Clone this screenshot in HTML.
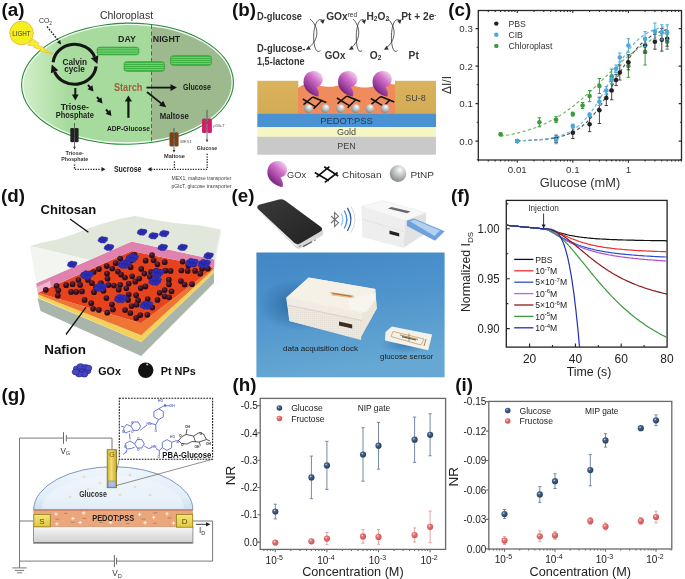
<!DOCTYPE html>
<html><head><meta charset="utf-8"><title>Figure</title>
<style>html,body{margin:0;padding:0;background:#fff;width:685px;height:579px;overflow:hidden}svg{display:block}</style>
</head><body>
<svg width="685" height="579" viewBox="0 0 685 579" font-family="Liberation Sans, Arial, sans-serif"><rect width="685" height="579" fill="#fff"/><rect x="478.3" y="10.5" width="203.2" height="149.5" fill="none" stroke="#2a2a2a" stroke-width="1.3"/>
<path d="M517.3,160.0v2.8M517.3,10.5v2.5M572.8,160.0v2.8M572.8,10.5v2.5M628.4,160.0v2.8M628.4,10.5v2.5M478.5,160.0v1.6M478.5,10.5v1.5M488.3,160.0v1.6M488.3,10.5v1.5M495.2,160.0v1.6M495.2,10.5v1.5M500.6,160.0v1.6M500.6,10.5v1.5M505.0,160.0v1.6M505.0,10.5v1.5M508.7,160.0v1.6M508.7,10.5v1.5M511.9,160.0v1.6M511.9,10.5v1.5M514.8,160.0v1.6M514.8,10.5v1.5M534.0,160.0v1.6M534.0,10.5v1.5M543.8,160.0v1.6M543.8,10.5v1.5M550.7,160.0v1.6M550.7,10.5v1.5M556.1,160.0v1.6M556.1,10.5v1.5M560.5,160.0v1.6M560.5,10.5v1.5M564.2,160.0v1.6M564.2,10.5v1.5M567.5,160.0v1.6M567.5,10.5v1.5M570.3,160.0v1.6M570.3,10.5v1.5M589.6,160.0v1.6M589.6,10.5v1.5M599.4,160.0v1.6M599.4,10.5v1.5M606.3,160.0v1.6M606.3,10.5v1.5M611.7,160.0v1.6M611.7,10.5v1.5M616.1,160.0v1.6M616.1,10.5v1.5M619.8,160.0v1.6M619.8,10.5v1.5M623.0,160.0v1.6M623.0,10.5v1.5M625.9,160.0v1.6M625.9,10.5v1.5M645.1,160.0v1.6M645.1,10.5v1.5M654.9,160.0v1.6M654.9,10.5v1.5M661.8,160.0v1.6M661.8,10.5v1.5M667.2,160.0v1.6M667.2,10.5v1.5M671.6,160.0v1.6M671.6,10.5v1.5M675.3,160.0v1.6M675.3,10.5v1.5M678.6,160.0v1.6M678.6,10.5v1.5M681.4,160.0v1.6M681.4,10.5v1.5M478.3,159.8h-1.6M681.5,159.8h-1.6M478.3,141.1h-2.8M681.5,141.1h-2.8M478.3,122.3h-1.6M681.5,122.3h-1.6M478.3,103.6h-2.8M681.5,103.6h-2.8M478.3,84.8h-1.6M681.5,84.8h-1.6M478.3,66.1h-2.8M681.5,66.1h-2.8M478.3,47.3h-1.6M681.5,47.3h-1.6M478.3,28.6h-2.8M681.5,28.6h-2.8" stroke="#2a2a2a" stroke-width="1.1" fill="none"/>
<text x="472.8" y="144.6" font-size="9.7" text-anchor="end" fill="#333" >0.0</text>
<text x="472.8" y="107.1" font-size="9.7" text-anchor="end" fill="#333" >0.1</text>
<text x="472.8" y="69.6" font-size="9.7" text-anchor="end" fill="#333" >0.2</text>
<text x="472.8" y="32.1" font-size="9.7" text-anchor="end" fill="#333" >0.3</text>
<text x="517.3" y="172.9" font-size="9.7" text-anchor="middle" fill="#333" >0.01</text>
<text x="572.8" y="172.9" font-size="9.7" text-anchor="middle" fill="#333" >0.1</text>
<text x="628.4" y="172.9" font-size="9.7" text-anchor="middle" fill="#333" >1</text>
<text x="580.0" y="186.5" font-size="12.8" text-anchor="middle" fill="#333" >Glucose (mM)</text>
<text transform="translate(450.9,85) rotate(-90)" font-size="12" text-anchor="middle" fill="#333">ΔI/I</text>
<polyline points="500.6,136.2 502.4,135.9 504.3,135.6 506.1,135.3 508.0,135.0 509.9,134.6 511.7,134.3 513.6,133.9 515.4,133.5 517.3,133.1 519.1,132.6 521.0,132.1 522.9,131.7 524.7,131.1 526.6,130.6 528.4,130.0 530.3,129.4 532.1,128.8 534.0,128.2 535.9,127.5 537.7,126.8 539.6,126.0 541.4,125.2 543.3,124.4 545.1,123.6 547.0,122.7 548.9,121.8 550.7,120.8 552.6,119.8 554.4,118.8 556.3,117.7 558.1,116.6 560.0,115.4 561.8,114.2 563.7,113.0 565.6,111.7 567.4,110.4 569.3,109.0 571.1,107.6 573.0,106.2 574.8,104.8 576.7,103.3 578.6,101.7 580.4,100.2 582.3,98.6 584.1,96.9 586.0,95.3 587.8,93.6 589.7,91.9 591.6,90.2 593.4,88.4 595.3,86.7 597.1,84.9 599.0,83.2 600.8,81.4 602.7,79.6 604.6,77.8 606.4,76.0 608.3,74.2 610.1,72.5 612.0,70.7 613.8,69.0 615.7,67.2 617.5,65.5 619.4,63.8 621.3,62.2 623.1,60.5 625.0,58.9 626.8,57.4 628.7,55.8 630.5,54.3 632.4,52.8 634.3,51.4 636.1,50.0 638.0,48.6 639.8,47.3 641.7,46.0 643.5,44.7 645.4,43.5 647.3,42.4 649.1,41.2 651.0,40.1 652.8,39.1 654.7,38.1 656.5,37.1 658.4,36.1 660.3,35.2 662.1,34.4 664.0,33.5 665.8,32.8 667.7,32.0" fill="none" stroke="#6cbf5e" stroke-width="1.2" stroke-dasharray="3.2,2.4"/>
<polyline points="517.3,140.8 519.2,140.7 521.0,140.7 522.9,140.6 524.7,140.6 526.6,140.5 528.4,140.4 530.3,140.3 532.2,140.3 534.0,140.2 535.9,140.0 537.7,139.9 539.6,139.8 541.4,139.6 543.3,139.5 545.2,139.3 547.0,139.1 548.9,138.8 550.7,138.6 552.6,138.3 554.4,137.9 556.3,137.6 558.1,137.2 560.0,136.7 561.9,136.2 563.7,135.7 565.6,135.1 567.4,134.4 569.3,133.7 571.1,132.9 573.0,132.0 574.9,131.0 576.7,129.9 578.6,128.7 580.4,127.4 582.3,126.0 584.1,124.5 586.0,122.9 587.9,121.1 589.7,119.2 591.6,117.1 593.4,114.9 595.3,112.6 597.1,110.1 599.0,107.5 600.9,104.8 602.7,101.9 604.6,99.0 606.4,96.0 608.3,92.8 610.1,89.7 612.0,86.4 613.8,83.2 615.7,80.0 617.6,76.7 619.4,73.6 621.3,70.4 623.1,67.4 625.0,64.4 626.8,61.6 628.7,58.8 630.6,56.2 632.4,53.7 634.3,51.4 636.1,49.1 638.0,47.1 639.8,45.1 641.7,43.3 643.6,41.7 645.4,40.1 647.3,38.7 649.1,37.4 651.0,36.2 652.8,35.1 654.7,34.1 656.6,33.2 658.4,32.4 660.3,31.6 662.1,30.9 664.0,30.3 665.8,29.8 667.7,29.3" fill="none" stroke="#555" stroke-width="1.2" stroke-dasharray="3.2,2.4"/>
<polyline points="517.3,140.7 519.2,140.7 521.0,140.6 522.9,140.5 524.7,140.5 526.6,140.4 528.4,140.3 530.3,140.2 532.2,140.1 534.0,140.0 535.9,139.9 537.7,139.7 539.6,139.6 541.4,139.4 543.3,139.2 545.2,138.9 547.0,138.7 548.9,138.4 550.7,138.1 552.6,137.7 554.4,137.3 556.3,136.8 558.1,136.3 560.0,135.8 561.9,135.2 563.7,134.5 565.6,133.7 567.4,132.9 569.3,132.0 571.1,130.9 573.0,129.8 574.9,128.6 576.7,127.2 578.6,125.7 580.4,124.1 582.3,122.4 584.1,120.5 586.0,118.4 587.9,116.3 589.7,113.9 591.6,111.4 593.4,108.8 595.3,106.0 597.1,103.1 599.0,100.1 600.9,96.9 602.7,93.7 604.6,90.4 606.4,87.0 608.3,83.6 610.1,80.2 612.0,76.8 613.8,73.4 615.7,70.1 617.6,66.9 619.4,63.8 621.3,60.8 623.1,57.8 625.0,55.1 626.8,52.5 628.7,50.0 630.6,47.6 632.4,45.5 634.3,43.4 636.1,41.6 638.0,39.8 639.8,38.2 641.7,36.8 643.6,35.4 645.4,34.2 647.3,33.1 649.1,32.0 651.0,31.1 652.8,30.3 654.7,29.5 656.6,28.9 658.4,28.2 660.3,27.7 662.1,27.2 664.0,26.8 665.8,26.4 667.7,26.0" fill="none" stroke="#5fb6e2" stroke-width="1.2" stroke-dasharray="3.2,2.4"/>
<path d="M500.6,132.8V135.8M498.9,132.8h3.4M498.9,135.8h3.4" stroke="#3c9a3c" stroke-width="1"/>
<circle cx="500.6" cy="134.3" r="2.3" fill="#3c9a3c"/>
<path d="M539.4,117.8V126.8M537.7,117.8h3.4M537.7,126.8h3.4" stroke="#3c9a3c" stroke-width="1"/>
<circle cx="539.4" cy="122.3" r="2.3" fill="#3c9a3c"/>
<path d="M556.1,116.7V122.7M554.4,116.7h3.4M554.4,122.7h3.4" stroke="#3c9a3c" stroke-width="1"/>
<circle cx="556.1" cy="119.7" r="2.3" fill="#3c9a3c"/>
<path d="M572.8,112.2V116.0M571.1,112.2h3.4M571.1,116.0h3.4" stroke="#3c9a3c" stroke-width="1"/>
<circle cx="572.8" cy="114.1" r="2.3" fill="#3c9a3c"/>
<path d="M582.6,102.5V108.5M580.9,102.5h3.4M580.9,108.5h3.4" stroke="#3c9a3c" stroke-width="1"/>
<circle cx="582.6" cy="105.5" r="2.3" fill="#3c9a3c"/>
<path d="M589.6,90.5V101.7M587.9,90.5h3.4M587.9,101.7h3.4" stroke="#3c9a3c" stroke-width="1"/>
<circle cx="589.6" cy="96.1" r="2.3" fill="#3c9a3c"/>
<path d="M599.4,78.5V93.5M597.7,78.5h3.4M597.7,93.5h3.4" stroke="#3c9a3c" stroke-width="1"/>
<circle cx="599.4" cy="86.0" r="2.3" fill="#3c9a3c"/>
<path d="M611.7,69.1V84.1M610.0,69.1h3.4M610.0,84.1h3.4" stroke="#3c9a3c" stroke-width="1"/>
<circle cx="611.7" cy="76.6" r="2.3" fill="#3c9a3c"/>
<path d="M628.4,54.8V77.3M626.7,54.8h3.4M626.7,77.3h3.4" stroke="#3c9a3c" stroke-width="1"/>
<circle cx="628.4" cy="66.1" r="2.3" fill="#3c9a3c"/>
<path d="M645.1,38.7V65.0M643.4,38.7h3.4M643.4,65.0h3.4" stroke="#3c9a3c" stroke-width="1"/>
<circle cx="645.1" cy="51.8" r="2.3" fill="#3c9a3c"/>
<path d="M667.2,34.2V49.2M665.5,34.2h3.4M665.5,49.2h3.4" stroke="#3c9a3c" stroke-width="1"/>
<circle cx="667.2" cy="41.7" r="2.3" fill="#3c9a3c"/>
<path d="M517.3,140.3V141.8M515.6,140.3h3.4M515.6,141.8h3.4" stroke="#444" stroke-width="1"/>
<circle cx="517.3" cy="141.1" r="2.3" fill="#222"/>
<path d="M556.1,135.1V142.6M554.4,135.1h3.4M554.4,142.6h3.4" stroke="#444" stroke-width="1"/>
<circle cx="556.1" cy="138.8" r="2.3" fill="#222"/>
<path d="M572.8,127.2V138.5M571.1,127.2h3.4M571.1,138.5h3.4" stroke="#444" stroke-width="1"/>
<circle cx="572.8" cy="132.8" r="2.3" fill="#222"/>
<path d="M589.6,116.7V131.7M587.9,116.7h3.4M587.9,131.7h3.4" stroke="#444" stroke-width="1"/>
<circle cx="589.6" cy="124.2" r="2.3" fill="#222"/>
<path d="M599.4,97.2V123.5M597.7,97.2h3.4M597.7,123.5h3.4" stroke="#444" stroke-width="1"/>
<circle cx="599.4" cy="110.3" r="2.3" fill="#222"/>
<path d="M606.3,90.5V105.5M604.6,90.5h3.4M604.6,105.5h3.4" stroke="#444" stroke-width="1"/>
<circle cx="606.3" cy="98.0" r="2.3" fill="#222"/>
<path d="M611.7,81.1V99.8M610.0,81.1h3.4M610.0,99.8h3.4" stroke="#444" stroke-width="1"/>
<circle cx="611.7" cy="90.5" r="2.3" fill="#222"/>
<path d="M616.1,74.3V85.6M614.4,74.3h3.4M614.4,85.6h3.4" stroke="#444" stroke-width="1"/>
<circle cx="616.1" cy="80.0" r="2.3" fill="#222"/>
<path d="M619.8,65.0V80.0M618.1,65.0h3.4M618.1,80.0h3.4" stroke="#444" stroke-width="1"/>
<circle cx="619.8" cy="72.5" r="2.3" fill="#222"/>
<path d="M628.4,54.8V69.8M626.7,54.8h3.4M626.7,69.8h3.4" stroke="#444" stroke-width="1"/>
<circle cx="628.4" cy="62.3" r="2.3" fill="#222"/>
<path d="M645.1,38.0V53.0M643.4,38.0h3.4M643.4,53.0h3.4" stroke="#444" stroke-width="1"/>
<circle cx="645.1" cy="45.5" r="2.3" fill="#222"/>
<path d="M654.9,34.2V49.2M653.2,34.2h3.4M653.2,49.2h3.4" stroke="#444" stroke-width="1"/>
<circle cx="654.9" cy="41.7" r="2.3" fill="#222"/>
<path d="M661.8,28.6V51.1M660.1,28.6h3.4M660.1,51.1h3.4" stroke="#444" stroke-width="1"/>
<circle cx="661.8" cy="39.8" r="2.3" fill="#222"/>
<path d="M667.2,31.2V46.2M665.5,31.2h3.4M665.5,46.2h3.4" stroke="#444" stroke-width="1"/>
<circle cx="667.2" cy="38.7" r="2.3" fill="#222"/>
<path d="M517.3,140.3V141.8M515.6,140.3h3.4M515.6,141.8h3.4" stroke="#4aa8dc" stroke-width="1"/>
<circle cx="517.3" cy="141.1" r="2.3" fill="#4aa8dc"/>
<path d="M556.1,136.2V143.7M554.4,136.2h3.4M554.4,143.7h3.4" stroke="#4aa8dc" stroke-width="1"/>
<circle cx="556.1" cy="140.0" r="2.3" fill="#4aa8dc"/>
<path d="M572.8,124.2V128.0M571.1,124.2h3.4M571.1,128.0h3.4" stroke="#4aa8dc" stroke-width="1"/>
<circle cx="572.8" cy="126.1" r="2.3" fill="#4aa8dc"/>
<path d="M589.6,113.0V116.7M587.9,113.0h3.4M587.9,116.7h3.4" stroke="#4aa8dc" stroke-width="1"/>
<circle cx="589.6" cy="114.8" r="2.3" fill="#4aa8dc"/>
<path d="M599.4,98.0V105.5M597.7,98.0h3.4M597.7,105.5h3.4" stroke="#4aa8dc" stroke-width="1"/>
<circle cx="599.4" cy="101.7" r="2.3" fill="#4aa8dc"/>
<path d="M606.3,86.7V94.2M604.6,86.7h3.4M604.6,94.2h3.4" stroke="#4aa8dc" stroke-width="1"/>
<circle cx="606.3" cy="90.5" r="2.3" fill="#4aa8dc"/>
<path d="M611.7,74.7V83.7M610.0,74.7h3.4M610.0,83.7h3.4" stroke="#4aa8dc" stroke-width="1"/>
<circle cx="611.7" cy="79.2" r="2.3" fill="#4aa8dc"/>
<path d="M616.1,65.0V72.5M614.4,65.0h3.4M614.4,72.5h3.4" stroke="#4aa8dc" stroke-width="1"/>
<circle cx="616.1" cy="68.7" r="2.3" fill="#4aa8dc"/>
<path d="M619.8,53.0V62.0M618.1,53.0h3.4M618.1,62.0h3.4" stroke="#4aa8dc" stroke-width="1"/>
<circle cx="619.8" cy="57.5" r="2.3" fill="#4aa8dc"/>
<path d="M628.4,38.7V52.2M626.7,38.7h3.4M626.7,52.2h3.4" stroke="#4aa8dc" stroke-width="1"/>
<circle cx="628.4" cy="45.5" r="2.3" fill="#4aa8dc"/>
<path d="M645.1,31.6V46.6M643.4,31.6h3.4M643.4,46.6h3.4" stroke="#4aa8dc" stroke-width="1"/>
<circle cx="645.1" cy="39.1" r="2.3" fill="#4aa8dc"/>
<path d="M654.9,23.0V39.5M653.2,23.0h3.4M653.2,39.5h3.4" stroke="#4aa8dc" stroke-width="1"/>
<circle cx="654.9" cy="31.2" r="2.3" fill="#4aa8dc"/>
<path d="M661.8,24.8V39.9M660.1,24.8h3.4M660.1,39.9h3.4" stroke="#4aa8dc" stroke-width="1"/>
<circle cx="661.8" cy="32.4" r="2.3" fill="#4aa8dc"/>
<path d="M667.2,24.8V39.9M665.5,24.8h3.4M665.5,39.9h3.4" stroke="#4aa8dc" stroke-width="1"/>
<circle cx="667.2" cy="32.4" r="2.3" fill="#4aa8dc"/>
<circle cx="496.3" cy="23.6" r="2.2" fill="#222"/>
<text x="508.4" y="26.7" font-size="8.7" text-anchor="start" fill="#333" >PBS</text>
<circle cx="496.3" cy="34.8" r="2.2" fill="#4aa8dc"/>
<text x="508.4" y="37.9" font-size="8.7" text-anchor="start" fill="#333" >CIB</text>
<circle cx="496.3" cy="45.9" r="2.2" fill="#3c9a3c"/>
<text x="508.4" y="49.0" font-size="8.7" text-anchor="start" fill="#333" >Chloroplast</text>
<rect x="506.3" y="200.4" width="160.8" height="146.7" fill="none" stroke="#222" stroke-width="1.3"/>
<path d="M529.6,347.1v-3.5M552.5,347.1v-2M575.4,347.1v-3.5M598.3,347.1v-2M621.2,347.1v-3.5M644.1,347.1v-2M506.3,328.6h3.5M506.3,303.6h2M506.3,278.7h3.5M506.3,253.8h2M506.3,228.8h3.5M506.3,203.9h2" stroke="#222" stroke-width="1.1" fill="none"/>
<text x="499.5" y="332.9" font-size="12" text-anchor="end" fill="#222" textLength="22" lengthAdjust="spacingAndGlyphs" >0.90</text>
<text x="499.5" y="283.0" font-size="12" text-anchor="end" fill="#222" textLength="22" lengthAdjust="spacingAndGlyphs" >0.95</text>
<text x="499.5" y="233.1" font-size="12" text-anchor="end" fill="#222" textLength="22" lengthAdjust="spacingAndGlyphs" >1.00</text>
<text x="529.6" y="363.2" font-size="12" text-anchor="middle" fill="#222" >20</text>
<text x="575.4" y="363.2" font-size="12" text-anchor="middle" fill="#222" >40</text>
<text x="621.2" y="363.2" font-size="12" text-anchor="middle" fill="#222" >60</text>
<text x="667.0" y="363.2" font-size="12" text-anchor="middle" fill="#222" >80</text>
<text x="589.0" y="376.0" font-size="12.3" text-anchor="middle" fill="#222" >Time (s)</text>
<text transform="translate(470.2,272) rotate(-90)" font-size="12.3" text-anchor="middle" fill="#222">Normalized I<tspan font-size="8" dy="3">DS</tspan></text>
<text x="543.5" y="211.2" font-size="8.2" text-anchor="middle" fill="#333" >Injection</text>
<path d="M543.6,213.5V228" stroke="#222" stroke-width="0.9"/><path d="M541.6,224.5L543.6,228.5L545.6,224.5Z" fill="#222"/>
<polyline points="506.7,225.3 507.8,225.4 509.0,225.5 510.1,225.6 511.3,225.7 512.4,225.9 513.6,226.0 514.7,226.1 515.9,226.2 517.0,226.3 518.1,226.4 519.3,226.5 520.4,226.6 521.6,226.7 522.7,226.8 523.9,226.9 525.0,227.1 526.2,227.2 527.3,227.3 528.5,227.4 529.6,227.5 530.7,227.6 531.9,227.7 533.0,227.8 534.2,227.9 535.3,228.0 536.5,228.1 537.6,228.3 538.8,228.4 539.9,228.5 541.1,228.6 542.2,228.7 543.3,228.8 544.5,228.9 545.6,229.0 546.8,229.2 547.9,229.4 549.1,229.7 550.2,230.0 551.4,230.3 552.5,230.6 553.6,231.0 554.8,231.3 555.9,231.7 557.1,232.0 558.2,232.4 559.4,232.7 560.5,233.0 561.7,233.3 562.8,233.7 564.0,234.0 565.1,234.2 566.2,234.5 567.4,234.8 568.5,235.0 569.7,235.3 570.8,235.5 572.0,235.7 573.1,236.0 574.3,236.2 575.4,236.4 576.5,236.5 577.7,236.7 578.8,236.9 580.0,237.0 581.1,237.2 582.3,237.3 583.4,237.5 584.6,237.6 585.7,237.7 586.9,237.9 588.0,238.0 589.1,238.1 590.3,238.2 591.4,238.3 592.6,238.4 593.7,238.5 594.9,238.6 596.0,238.7 597.2,238.8 598.3,238.8 599.4,238.9 600.6,239.0 601.7,239.0 602.9,239.1 604.0,239.2 605.2,239.2 606.3,239.3 607.5,239.4 608.6,239.4 609.8,239.5 610.9,239.5 612.0,239.6 613.2,239.6 614.3,239.7 615.5,239.7 616.6,239.7 617.8,239.8 618.9,239.8 620.1,239.9 621.2,239.9 622.3,239.9 623.5,240.0 624.6,240.0 625.8,240.0 626.9,240.1 628.1,240.1 629.2,240.1 630.4,240.2 631.5,240.2 632.6,240.2 633.8,240.2 634.9,240.3 636.1,240.3 637.2,240.3 638.4,240.3 639.5,240.4 640.7,240.4 641.8,240.4 643.0,240.4 644.1,240.5 645.2,240.5 646.4,240.5 647.5,240.5 648.7,240.5 649.8,240.5 651.0,240.6 652.1,240.6 653.3,240.6 654.4,240.6 655.6,240.6 656.7,240.6 657.8,240.7 659.0,240.7 660.1,240.7 661.3,240.7 662.4,240.7 663.6,240.7 664.7,240.7 665.9,240.8 667.0,240.8" fill="none" stroke="#111" stroke-width="1.2"/>
<polyline points="506.7,225.3 507.8,225.4 509.0,225.5 510.1,225.6 511.3,225.7 512.4,225.9 513.6,226.0 514.7,226.1 515.9,226.2 517.0,226.3 518.1,226.4 519.3,226.5 520.4,226.6 521.6,226.7 522.7,226.8 523.9,226.9 525.0,227.1 526.2,227.2 527.3,227.3 528.5,227.4 529.6,227.5 530.7,227.6 531.9,227.7 533.0,227.8 534.2,227.9 535.3,228.0 536.5,228.1 537.6,228.3 538.8,228.4 539.9,228.5 541.1,228.6 542.2,228.7 543.3,228.8 544.5,228.8 545.6,228.9 546.8,229.1 547.9,229.2 549.1,229.5 550.2,229.8 551.4,230.1 552.5,230.4 553.6,230.8 554.8,231.2 555.9,231.7 557.1,232.2 558.2,232.6 559.4,233.1 560.5,233.6 561.7,234.2 562.8,234.7 564.0,235.2 565.1,235.7 566.2,236.2 567.4,236.7 568.5,237.2 569.7,237.7 570.8,238.2 572.0,238.7 573.1,239.1 574.3,239.6 575.4,240.0 576.5,240.5 577.7,240.9 578.8,241.3 580.0,241.7 581.1,242.0 582.3,242.4 583.4,242.8 584.6,243.1 585.7,243.4 586.9,243.7 588.0,244.0 589.1,244.3 590.3,244.6 591.4,244.9 592.6,245.1 593.7,245.4 594.9,245.6 596.0,245.9 597.2,246.1 598.3,246.3 599.4,246.5 600.6,246.7 601.7,246.9 602.9,247.1 604.0,247.3 605.2,247.5 606.3,247.6 607.5,247.8 608.6,247.9 609.8,248.1 610.9,248.2 612.0,248.4 613.2,248.5 614.3,248.6 615.5,248.8 616.6,248.9 617.8,249.0 618.9,249.1 620.1,249.2 621.2,249.3 622.3,249.4 623.5,249.5 624.6,249.6 625.8,249.7 626.9,249.8 628.1,249.9 629.2,250.0 630.4,250.1 631.5,250.2 632.6,250.2 633.8,250.3 634.9,250.4 636.1,250.5 637.2,250.5 638.4,250.6 639.5,250.7 640.7,250.7 641.8,250.8 643.0,250.8 644.1,250.9 645.2,250.9 646.4,251.0 647.5,251.1 648.7,251.1 649.8,251.2 651.0,251.2 652.1,251.2 653.3,251.3 654.4,251.3 655.6,251.4 656.7,251.4 657.8,251.5 659.0,251.5 660.1,251.5 661.3,251.6 662.4,251.6 663.6,251.7 664.7,251.7 665.9,251.7 667.0,251.8" fill="none" stroke="#ee3030" stroke-width="1.2"/>
<polyline points="506.7,225.3 507.8,225.4 509.0,225.5 510.1,225.6 511.3,225.7 512.4,225.9 513.6,226.0 514.7,226.1 515.9,226.2 517.0,226.3 518.1,226.4 519.3,226.5 520.4,226.6 521.6,226.7 522.7,226.8 523.9,226.9 525.0,227.1 526.2,227.2 527.3,227.3 528.5,227.4 529.6,227.5 530.7,227.6 531.9,227.7 533.0,227.8 534.2,227.9 535.3,228.0 536.5,228.1 537.6,228.3 538.8,228.4 539.9,228.5 541.1,228.6 542.2,228.7 543.3,228.8 544.5,228.9 545.6,229.2 546.8,229.6 547.9,230.0 549.1,230.5 550.2,231.1 551.4,231.6 552.5,232.2 553.6,232.9 554.8,233.5 555.9,234.1 557.1,234.8 558.2,235.4 559.4,236.1 560.5,236.7 561.7,237.4 562.8,238.0 564.0,238.6 565.1,239.2 566.2,239.8 567.4,240.3 568.5,240.9 569.7,241.4 570.8,241.9 572.0,242.5 573.1,242.9 574.3,243.4 575.4,243.9 576.5,244.3 577.7,244.8 578.8,245.2 580.0,245.6 581.1,246.0 582.3,246.4 583.4,246.7 584.6,247.1 585.7,247.4 586.9,247.8 588.0,248.1 589.1,248.4 590.3,248.7 591.4,249.0 592.6,249.2 593.7,249.5 594.9,249.8 596.0,250.0 597.2,250.3 598.3,250.5 599.4,250.7 600.6,251.0 601.7,251.2 602.9,251.4 604.0,251.6 605.2,251.8 606.3,252.0 607.5,252.1 608.6,252.3 609.8,252.5 610.9,252.7 612.0,252.8 613.2,253.0 614.3,253.1 615.5,253.3 616.6,253.4 617.8,253.6 618.9,253.7 620.1,253.8 621.2,253.9 622.3,254.1 623.5,254.2 624.6,254.3 625.8,254.4 626.9,254.5 628.1,254.6 629.2,254.7 630.4,254.8 631.5,254.9 632.6,255.0 633.8,255.1 634.9,255.2 636.1,255.3 637.2,255.4 638.4,255.5 639.5,255.6 640.7,255.7 641.8,255.7 643.0,255.8 644.1,255.9 645.2,256.0 646.4,256.0 647.5,256.1 648.7,256.2 649.8,256.2 651.0,256.3 652.1,256.4 653.3,256.4 654.4,256.5 655.6,256.6 656.7,256.6 657.8,256.7 659.0,256.7 660.1,256.8 661.3,256.8 662.4,256.9 663.6,256.9 664.7,257.0 665.9,257.0 667.0,257.1" fill="none" stroke="#3050d0" stroke-width="1.2"/>
<polyline points="506.7,225.3 507.8,225.4 509.0,225.5 510.1,225.6 511.3,225.7 512.4,225.9 513.6,226.0 514.7,226.1 515.9,226.2 517.0,226.3 518.1,226.4 519.3,226.5 520.4,226.6 521.6,226.7 522.7,226.8 523.9,226.9 525.0,227.1 526.2,227.2 527.3,227.3 528.5,227.4 529.6,227.5 530.7,227.6 531.9,227.7 533.0,227.8 534.2,227.9 535.3,228.0 536.5,228.1 537.6,228.3 538.8,228.4 539.9,228.5 541.1,228.6 542.2,228.7 543.3,228.8 544.5,229.0 545.6,229.3 546.8,229.8 547.9,230.3 549.1,230.8 550.2,231.4 551.4,232.0 552.5,232.7 553.6,233.3 554.8,234.0 555.9,234.7 557.1,235.4 558.2,236.1 559.4,236.7 560.5,237.4 561.7,238.1 562.8,238.7 564.0,239.3 565.1,240.0 566.2,240.6 567.4,241.2 568.5,241.8 569.7,242.4 570.8,242.9 572.0,243.5 573.1,244.0 574.3,244.5 575.4,245.0 576.5,245.5 577.7,246.0 578.8,246.5 580.0,246.9 581.1,247.3 582.3,247.8 583.4,248.2 584.6,248.6 585.7,249.0 586.9,249.3 588.0,249.7 589.1,250.1 590.3,250.4 591.4,250.7 592.6,251.1 593.7,251.4 594.9,251.7 596.0,252.0 597.2,252.3 598.3,252.6 599.4,252.8 600.6,253.1 601.7,253.4 602.9,253.6 604.0,253.9 605.2,254.1 606.3,254.3 607.5,254.5 608.6,254.8 609.8,255.0 610.9,255.2 612.0,255.4 613.2,255.6 614.3,255.8 615.5,256.0 616.6,256.1 617.8,256.3 618.9,256.5 620.1,256.7 621.2,256.8 622.3,257.0 623.5,257.1 624.6,257.3 625.8,257.4 626.9,257.6 628.1,257.7 629.2,257.9 630.4,258.0 631.5,258.1 632.6,258.2 633.8,258.4 634.9,258.5 636.1,258.6 637.2,258.7 638.4,258.8 639.5,259.0 640.7,259.1 641.8,259.2 643.0,259.3 644.1,259.4 645.2,259.5 646.4,259.6 647.5,259.7 648.7,259.8 649.8,259.9 651.0,259.9 652.1,260.0 653.3,260.1 654.4,260.2 655.6,260.3 656.7,260.4 657.8,260.4 659.0,260.5 660.1,260.6 661.3,260.7 662.4,260.8 663.6,260.8 664.7,260.9 665.9,261.0 667.0,261.0" fill="none" stroke="#b050d0" stroke-width="1.2"/>
<polyline points="506.7,225.3 507.8,225.4 509.0,225.5 510.1,225.6 511.3,225.7 512.4,225.9 513.6,226.0 514.7,226.1 515.9,226.2 517.0,226.3 518.1,226.4 519.3,226.5 520.4,226.6 521.6,226.7 522.7,226.8 523.9,226.9 525.0,227.1 526.2,227.2 527.3,227.3 528.5,227.4 529.6,227.5 530.7,227.6 531.9,227.7 533.0,227.8 534.2,227.9 535.3,228.0 536.5,228.1 537.6,228.3 538.8,228.4 539.9,228.5 541.1,228.6 542.2,228.7 543.3,228.8 544.5,228.8 545.6,228.9 546.8,229.0 547.9,229.2 549.1,229.5 550.2,229.7 551.4,230.1 552.5,230.4 553.6,230.9 554.8,231.3 555.9,231.9 557.1,232.4 558.2,233.0 559.4,233.6 560.5,234.3 561.7,235.0 562.8,235.8 564.0,236.5 565.1,237.3 566.2,238.1 567.4,239.0 568.5,239.8 569.7,240.7 570.8,241.6 572.0,242.5 573.1,243.4 574.3,244.4 575.4,245.3 576.5,246.2 577.7,247.2 578.8,248.1 580.0,249.1 581.1,250.1 582.3,251.0 583.4,252.0 584.6,252.9 585.7,253.9 586.9,254.8 588.0,255.8 589.1,256.7 590.3,257.6 591.4,258.5 592.6,259.4 593.7,260.3 594.9,261.2 596.0,262.1 597.2,262.9 598.3,263.8 599.4,264.6 600.6,265.4 601.7,266.3 602.9,267.1 604.0,267.8 605.2,268.6 606.3,269.4 607.5,270.1 608.6,270.9 609.8,271.6 610.9,272.3 612.0,273.0 613.2,273.7 614.3,274.3 615.5,275.0 616.6,275.6 617.8,276.3 618.9,276.9 620.1,277.5 621.2,278.1 622.3,278.7 623.5,279.2 624.6,279.8 625.8,280.3 626.9,280.9 628.1,281.4 629.2,281.9 630.4,282.4 631.5,282.9 632.6,283.4 633.8,283.9 634.9,284.3 636.1,284.8 637.2,285.2 638.4,285.7 639.5,286.1 640.7,286.5 641.8,286.9 643.0,287.3 644.1,287.7 645.2,288.1 646.4,288.5 647.5,288.8 648.7,289.2 649.8,289.5 651.0,289.9 652.1,290.2 653.3,290.6 654.4,290.9 655.6,291.2 656.7,291.5 657.8,291.8 659.0,292.1 660.1,292.4 661.3,292.7 662.4,293.0 663.6,293.3 664.7,293.5 665.9,293.8 667.0,294.1" fill="none" stroke="#8b1a1a" stroke-width="1.2"/>
<polyline points="506.7,225.3 507.8,225.4 509.0,225.5 510.1,225.6 511.3,225.7 512.4,225.9 513.6,226.0 514.7,226.1 515.9,226.2 517.0,226.3 518.1,226.4 519.3,226.5 520.4,226.6 521.6,226.7 522.7,226.8 523.9,226.9 525.0,227.1 526.2,227.2 527.3,227.3 528.5,227.4 529.6,227.5 530.7,227.6 531.9,227.7 533.0,227.8 534.2,227.9 535.3,228.0 536.5,228.1 537.6,228.3 538.8,228.4 539.9,228.5 541.1,228.6 542.2,228.7 543.3,228.8 544.5,228.9 545.6,229.0 546.8,229.3 547.9,229.6 549.1,230.0 550.2,230.4 551.4,231.0 552.5,231.6 553.6,232.2 554.8,233.0 555.9,233.7 557.1,234.6 558.2,235.5 559.4,236.4 560.5,237.4 561.7,238.4 562.8,239.5 564.0,240.6 565.1,241.7 566.2,242.9 567.4,244.1 568.5,245.4 569.7,246.6 570.8,247.9 572.0,249.2 573.1,250.6 574.3,251.9 575.4,253.3 576.5,254.7 577.7,256.1 578.8,257.5 580.0,258.9 581.1,260.3 582.3,261.7 583.4,263.1 584.6,264.5 585.7,266.0 586.9,267.4 588.0,268.8 589.1,270.2 590.3,271.6 591.4,273.1 592.6,274.5 593.7,275.9 594.9,277.2 596.0,278.6 597.2,280.0 598.3,281.3 599.4,282.7 600.6,284.0 601.7,285.3 602.9,286.7 604.0,287.9 605.2,289.2 606.3,290.5 607.5,291.8 608.6,293.0 609.8,294.2 610.9,295.4 612.0,296.6 613.2,297.8 614.3,299.0 615.5,300.1 616.6,301.3 617.8,302.4 618.9,303.5 620.1,304.6 621.2,305.7 622.3,306.7 623.5,307.8 624.6,308.8 625.8,309.8 626.9,310.8 628.1,311.8 629.2,312.8 630.4,313.7 631.5,314.7 632.6,315.6 633.8,316.5 634.9,317.4 636.1,318.3 637.2,319.2 638.4,320.0 639.5,320.9 640.7,321.7 641.8,322.5 643.0,323.3 644.1,324.1 645.2,324.9 646.4,325.7 647.5,326.4 648.7,327.2 649.8,327.9 651.0,328.6 652.1,329.3 653.3,330.0 654.4,330.7 655.6,331.4 656.7,332.0 657.8,332.7 659.0,333.3 660.1,334.0 661.3,334.6 662.4,335.2 663.6,335.8 664.7,336.4 665.9,337.0 667.0,337.6" fill="none" stroke="#3a9a3a" stroke-width="1.2"/>
<polyline points="506.7,225.3 507.3,225.4 507.8,225.4 508.4,225.5 509.0,225.5 509.6,225.6 510.1,225.6 510.7,225.7 511.3,225.7 511.9,225.8 512.4,225.9 513.0,225.9 513.6,226.0 514.1,226.0 514.7,226.1 515.3,226.1 515.9,226.2 516.4,226.2 517.0,226.3 517.6,226.3 518.1,226.4 518.7,226.5 519.3,226.5 519.9,226.6 520.4,226.6 521.0,226.7 521.6,226.7 522.2,226.8 522.7,226.8 523.3,226.9 523.9,226.9 524.4,227.0 525.0,227.1 525.6,227.1 526.2,227.2 526.7,227.2 527.3,227.3 527.9,227.3 528.5,227.4 529.0,227.4 529.6,227.5 530.2,227.5 530.7,227.6 531.3,227.7 531.9,227.7 532.5,227.8 533.0,227.8 533.6,227.9 534.2,227.9 534.8,228.0 535.3,228.0 535.9,228.1 536.5,228.1 537.0,228.2 537.6,228.3 538.2,228.3 538.8,228.4 539.3,228.4 539.9,228.5 540.5,228.5 541.1,228.6 541.6,228.6 542.2,228.7 542.8,228.7 543.3,228.8 543.9,228.8 544.5,228.8 545.1,228.8 545.6,228.8 546.2,228.8 546.8,228.8 547.3,228.8 547.9,228.9 548.5,228.9 549.1,229.0 549.6,229.0 550.2,229.1 550.8,229.2 551.4,229.3 551.9,229.5 552.5,229.7 553.1,229.9 553.6,230.1 554.2,230.4 554.8,230.7 555.4,231.1 555.9,231.5 556.5,232.0 557.1,232.5 557.7,233.1 558.2,233.7 558.8,234.4 559.4,235.2 559.9,236.1 560.5,237.0 561.1,238.1 561.7,239.2 562.2,240.4 562.8,241.7 563.4,243.1 564.0,244.7 564.5,246.3 565.1,248.1 565.7,249.9 566.2,252.0 566.8,254.1 567.4,256.4 568.0,258.8 568.5,261.4 569.1,264.1 569.7,267.0 570.2,270.1 570.8,273.3 571.4,276.7 572.0,280.3 572.5,284.1 573.1,288.1 573.7,292.2 574.3,296.6 574.8,301.2 575.4,306.0 576.0,311.0 576.5,316.2 577.1,321.7 577.7,327.3 578.3,333.3 578.8,339.5 579.4,345.9 580.0,347.1" fill="none" stroke="#2030b0" stroke-width="1.2"/>
<path d="M514.2,259.4H533.4" stroke="#111" stroke-width="1.3"/>
<text x="535.2" y="262.6" font-size="8.6" text-anchor="start" fill="#222" >PBS</text>
<path d="M514.2,270.8H533.4" stroke="#ee3030" stroke-width="1.3"/>
<text x="535.2" y="274.0" font-size="8.6" text-anchor="start" fill="#222" >10<tspan font-size="6" dy="-3.5">-7</tspan><tspan dy="3.5">M</tspan></text>
<path d="M514.2,282.2H533.4" stroke="#3050d0" stroke-width="1.3"/>
<text x="535.2" y="285.4" font-size="8.6" text-anchor="start" fill="#222" >5×10<tspan font-size="6" dy="-3.5">-7</tspan><tspan dy="3.5">M</tspan></text>
<path d="M514.2,293.6H533.4" stroke="#c060e0" stroke-width="1.3"/>
<text x="535.2" y="296.8" font-size="8.6" text-anchor="start" fill="#222" >10<tspan font-size="6" dy="-3.5">-6</tspan><tspan dy="3.5">M</tspan></text>
<path d="M514.2,305.0H533.4" stroke="#8b1a1a" stroke-width="1.3"/>
<text x="535.2" y="308.2" font-size="8.6" text-anchor="start" fill="#222" >5×10<tspan font-size="6" dy="-3.5">-6</tspan><tspan dy="3.5">M</tspan></text>
<path d="M514.2,316.4H533.4" stroke="#3a9a3a" stroke-width="1.3"/>
<text x="535.2" y="319.6" font-size="8.6" text-anchor="start" fill="#222" >10<tspan font-size="6" dy="-3.5">-5</tspan><tspan dy="3.5">M</tspan></text>
<path d="M514.2,327.8H533.4" stroke="#2030b0" stroke-width="1.3"/>
<text x="535.2" y="331.0" font-size="8.6" text-anchor="start" fill="#222" >10<tspan font-size="6" dy="-3.5">-4</tspan><tspan dy="3.5">M</tspan></text>
<defs>
<radialGradient id="gB" cx="0.38" cy="0.35" r="0.7"><stop offset="0" stop-color="#dfe6f0"/><stop offset="0.25" stop-color="#4a6890"/><stop offset="1" stop-color="#1e3758"/></radialGradient>
<radialGradient id="gR" cx="0.38" cy="0.35" r="0.7"><stop offset="0" stop-color="#fff2f2"/><stop offset="0.25" stop-color="#e67a7a"/><stop offset="1" stop-color="#c84e50"/></radialGradient>
</defs>
<rect x="260.2" y="398.4" width="185.4" height="151.0" fill="none" stroke="#6a6a6a" stroke-width="1.3"/>
<path d="M275.3,549.4v2.8M326.9,549.4v2.8M378.5,549.4v2.8M430.1,549.4v2.8M263.9,549.4v1.6M267.3,549.4v1.6M270.3,549.4v1.6M272.9,549.4v1.6M290.8,549.4v1.6M299.9,549.4v1.6M306.4,549.4v1.6M311.4,549.4v1.6M315.5,549.4v1.6M318.9,549.4v1.6M321.9,549.4v1.6M324.5,549.4v1.6M342.4,549.4v1.6M351.5,549.4v1.6M358.0,549.4v1.6M363.0,549.4v1.6M367.1,549.4v1.6M370.5,549.4v1.6M373.5,549.4v1.6M376.1,549.4v1.6M394.0,549.4v1.6M403.1,549.4v1.6M409.6,549.4v1.6M414.6,549.4v1.6M418.7,549.4v1.6M422.1,549.4v1.6M425.1,549.4v1.6M427.7,549.4v1.6M260.2,405.6h-2.8M260.2,432.9h-2.8M260.2,460.2h-2.8M260.2,487.5h-2.8M260.2,514.8h-2.8M260.2,542.1h-2.8" stroke="#6a6a6a" stroke-width="1.1" fill="none"/>
<text x="257.9" y="409.2" font-size="10" text-anchor="end" fill="#222" >-0.5</text>
<text x="257.9" y="436.5" font-size="10" text-anchor="end" fill="#222" >-0.4</text>
<text x="257.9" y="463.8" font-size="10" text-anchor="end" fill="#222" >-0.3</text>
<text x="257.9" y="491.1" font-size="10" text-anchor="end" fill="#222" >-0.2</text>
<text x="257.9" y="518.4" font-size="10" text-anchor="end" fill="#222" >-0.1</text>
<text x="257.9" y="545.7" font-size="10" text-anchor="end" fill="#222" >0.0</text>
<text x="274.3" y="563.6" font-size="10" text-anchor="middle" fill="#222">10<tspan font-size="7" dy="-4">-5</tspan></text>
<text x="325.9" y="563.6" font-size="10" text-anchor="middle" fill="#222">10<tspan font-size="7" dy="-4">-4</tspan></text>
<text x="377.5" y="563.6" font-size="10" text-anchor="middle" fill="#222">10<tspan font-size="7" dy="-4">-3</tspan></text>
<text x="429.1" y="563.6" font-size="10" text-anchor="middle" fill="#222">10<tspan font-size="7" dy="-4">-2</tspan></text>
<text x="352.9" y="576.0" font-size="12.7" text-anchor="middle" fill="#222" >Concentration (M)</text>
<text transform="translate(235.3,475.4) rotate(-90)" font-size="13.5" text-anchor="middle" fill="#222">NR</text>
<text x="357.7" y="411.4" font-size="8.4" text-anchor="start" fill="#222" >NIP gate</text>
<circle cx="275.3" cy="542.6" r="3.1" fill="url(#gR)"/>
<circle cx="311.4" cy="541.3" r="3.1" fill="url(#gR)"/>
<path d="M326.9,532.5V544.6M325.3,532.5h3.2M325.3,544.6h3.2" stroke="#e89a9a" stroke-width="0.9"/>
<circle cx="326.9" cy="538.6" r="3.1" fill="url(#gR)"/>
<path d="M363.0,529.5V543.2M361.4,529.5h3.2M361.4,543.2h3.2" stroke="#e89a9a" stroke-width="0.9"/>
<circle cx="363.0" cy="536.4" r="3.1" fill="url(#gR)"/>
<path d="M378.5,529.5V544.3M376.9,529.5h3.2M376.9,544.3h3.2" stroke="#e89a9a" stroke-width="0.9"/>
<circle cx="378.5" cy="536.9" r="3.1" fill="url(#gR)"/>
<path d="M414.6,527.9V542.1M413.0,527.9h3.2M413.0,542.1h3.2" stroke="#e89a9a" stroke-width="0.9"/>
<circle cx="414.6" cy="535.0" r="3.1" fill="url(#gR)"/>
<path d="M430.1,511.0V542.6M428.5,511.0h3.2M428.5,542.6h3.2" stroke="#e89a9a" stroke-width="0.9"/>
<circle cx="430.1" cy="526.8" r="3.1" fill="url(#gR)"/>
<path d="M275.3,504.2V518.9M273.7,504.2h3.2M273.7,518.9h3.2" stroke="#6a7c98" stroke-width="0.9"/>
<circle cx="275.3" cy="511.5" r="3.1" fill="url(#gB)"/>
<path d="M311.4,456.1V498.7M309.8,456.1h3.2M309.8,498.7h3.2" stroke="#6a7c98" stroke-width="0.9"/>
<circle cx="311.4" cy="477.4" r="3.1" fill="url(#gB)"/>
<path d="M326.9,441.4V489.4M325.3,441.4h3.2M325.3,489.4h3.2" stroke="#6a7c98" stroke-width="0.9"/>
<circle cx="326.9" cy="465.4" r="3.1" fill="url(#gB)"/>
<path d="M363.0,427.7V481.2M361.4,427.7h3.2M361.4,481.2h3.2" stroke="#6a7c98" stroke-width="0.9"/>
<circle cx="363.0" cy="454.5" r="3.1" fill="url(#gB)"/>
<path d="M378.5,422.3V469.2M376.9,422.3h3.2M376.9,469.2h3.2" stroke="#6a7c98" stroke-width="0.9"/>
<circle cx="378.5" cy="445.7" r="3.1" fill="url(#gB)"/>
<path d="M414.6,417.1V462.4M413.0,417.1h3.2M413.0,462.4h3.2" stroke="#6a7c98" stroke-width="0.9"/>
<circle cx="414.6" cy="439.7" r="3.1" fill="url(#gB)"/>
<path d="M430.1,413.8V455.8M428.5,413.8h3.2M428.5,455.8h3.2" stroke="#6a7c98" stroke-width="0.9"/>
<circle cx="430.1" cy="434.8" r="3.1" fill="url(#gB)"/>
<circle cx="279.4" cy="408" r="2.8" fill="url(#gB)"/><circle cx="279.4" cy="418.5" r="2.8" fill="url(#gR)"/>
<text x="291.2" y="411.3" font-size="8.6" text-anchor="start" fill="#222" >Glucose</text>
<text x="291.2" y="421.8" font-size="8.6" text-anchor="start" fill="#222" >Fructose</text>
<rect x="488.8" y="401.4" width="183.0" height="147.6" fill="none" stroke="#6a6a6a" stroke-width="1.3"/>
<path d="M504.5,549.0v2.8M555.0,549.0v2.8M605.5,549.0v2.8M656.0,549.0v2.8M489.3,549.0v1.6M493.3,549.0v1.6M496.7,549.0v1.6M499.6,549.0v1.6M502.2,549.0v1.6M519.7,549.0v1.6M528.6,549.0v1.6M534.9,549.0v1.6M539.8,549.0v1.6M543.8,549.0v1.6M547.2,549.0v1.6M550.1,549.0v1.6M552.7,549.0v1.6M570.2,549.0v1.6M579.1,549.0v1.6M585.4,549.0v1.6M590.3,549.0v1.6M594.3,549.0v1.6M597.7,549.0v1.6M600.6,549.0v1.6M603.2,549.0v1.6M620.7,549.0v1.6M629.6,549.0v1.6M635.9,549.0v1.6M640.8,549.0v1.6M644.8,549.0v1.6M648.2,549.0v1.6M651.1,549.0v1.6M653.7,549.0v1.6M671.2,549.0v1.6M488.8,401.6h-2.8M488.8,431.1h-2.8M488.8,460.5h-2.8M488.8,490.0h-2.8M488.8,519.4h-2.8M488.8,548.9h-2.8" stroke="#6a6a6a" stroke-width="1.1" fill="none"/>
<text x="486.3" y="405.2" font-size="10" text-anchor="end" fill="#222" >-0.15</text>
<text x="486.3" y="434.7" font-size="10" text-anchor="end" fill="#222" >-0.12</text>
<text x="486.3" y="464.1" font-size="10" text-anchor="end" fill="#222" >-0.09</text>
<text x="486.3" y="493.6" font-size="10" text-anchor="end" fill="#222" >-0.06</text>
<text x="486.3" y="523.0" font-size="10" text-anchor="end" fill="#222" >-0.03</text>
<text x="486.3" y="552.5" font-size="10" text-anchor="end" fill="#222" >0.00</text>
<text x="503.5" y="563.2" font-size="10" text-anchor="middle" fill="#222">10<tspan font-size="7" dy="-4">-5</tspan></text>
<text x="554.0" y="563.2" font-size="10" text-anchor="middle" fill="#222">10<tspan font-size="7" dy="-4">-4</tspan></text>
<text x="604.5" y="563.2" font-size="10" text-anchor="middle" fill="#222">10<tspan font-size="7" dy="-4">-3</tspan></text>
<text x="655.0" y="563.2" font-size="10" text-anchor="middle" fill="#222">10<tspan font-size="7" dy="-4">-2</tspan></text>
<text x="580.3" y="575.6" font-size="12.7" text-anchor="middle" fill="#222" >Concentration (M)</text>
<text transform="translate(458.2,476.7) rotate(-90)" font-size="13.5" text-anchor="middle" fill="#222">NR</text>
<text x="585.1" y="414.4" font-size="8.4" text-anchor="start" fill="#222" >MIP gate</text>
<path d="M504.5,536.6V544.5M502.9,536.6h3.2M502.9,544.5h3.2" stroke="#e89a9a" stroke-width="0.9"/>
<circle cx="504.5" cy="540.6" r="3.1" fill="url(#gR)"/>
<path d="M539.8,530.9V541.7M538.2,530.9h3.2M538.2,541.7h3.2" stroke="#e89a9a" stroke-width="0.9"/>
<circle cx="539.8" cy="536.3" r="3.1" fill="url(#gR)"/>
<path d="M555.0,531.4V539.3M553.4,531.4h3.2M553.4,539.3h3.2" stroke="#e89a9a" stroke-width="0.9"/>
<circle cx="555.0" cy="535.4" r="3.1" fill="url(#gR)"/>
<path d="M590.3,517.5V524.4M588.7,517.5h3.2M588.7,524.4h3.2" stroke="#e89a9a" stroke-width="0.9"/>
<circle cx="590.3" cy="520.9" r="3.1" fill="url(#gR)"/>
<path d="M605.5,523.1V530.0M603.9,523.1h3.2M603.9,530.0h3.2" stroke="#e89a9a" stroke-width="0.9"/>
<circle cx="605.5" cy="526.5" r="3.1" fill="url(#gR)"/>
<path d="M640.8,517.5V524.4M639.2,517.5h3.2M639.2,524.4h3.2" stroke="#e89a9a" stroke-width="0.9"/>
<circle cx="640.8" cy="520.9" r="3.1" fill="url(#gR)"/>
<path d="M656.0,511.1V522.9M654.4,511.1h3.2M654.4,522.9h3.2" stroke="#e89a9a" stroke-width="0.9"/>
<circle cx="656.0" cy="517.0" r="3.1" fill="url(#gR)"/>
<path d="M504.5,509.5V518.4M502.9,509.5h3.2M502.9,518.4h3.2" stroke="#6a7c98" stroke-width="0.9"/>
<circle cx="504.5" cy="514.0" r="3.1" fill="url(#gB)"/>
<path d="M539.8,486.6V502.3M538.2,486.6h3.2M538.2,502.3h3.2" stroke="#6a7c98" stroke-width="0.9"/>
<circle cx="539.8" cy="494.4" r="3.1" fill="url(#gB)"/>
<path d="M555.0,473.8V488.5M553.4,473.8h3.2M553.4,488.5h3.2" stroke="#6a7c98" stroke-width="0.9"/>
<circle cx="555.0" cy="481.2" r="3.1" fill="url(#gB)"/>
<path d="M590.3,454.4V485.8M588.7,454.4h3.2M588.7,485.8h3.2" stroke="#6a7c98" stroke-width="0.9"/>
<circle cx="590.3" cy="470.1" r="3.1" fill="url(#gB)"/>
<path d="M605.5,433.7V447.1M603.9,433.7h3.2M603.9,447.1h3.2" stroke="#6a7c98" stroke-width="0.9"/>
<circle cx="605.5" cy="440.4" r="3.1" fill="url(#gB)"/>
<circle cx="640.8" cy="428.2" r="3.1" fill="url(#gB)"/>
<path d="M656.0,414.9V425.7M654.4,414.9h3.2M654.4,425.7h3.2" stroke="#6a7c98" stroke-width="0.9"/>
<circle cx="656.0" cy="420.3" r="3.1" fill="url(#gB)"/>
<circle cx="507.7" cy="410.5" r="2.8" fill="url(#gB)"/><circle cx="507.7" cy="421.0" r="2.8" fill="url(#gR)"/>
<text x="519.5" y="413.8" font-size="8.6" text-anchor="start" fill="#222" >Glucose</text>
<text x="519.5" y="424.3" font-size="8.6" text-anchor="start" fill="#222" >Fructose</text>
<text x="1.5" y="15.9" font-size="18.8" text-anchor="start" font-weight="bold" fill="#111" >(a)</text>
<defs>
<clipPath id="ellA"><ellipse cx="127.5" cy="83.7" rx="104.1" ry="58.6" transform="rotate(-1 127.5 83.7)"/></clipPath>
<linearGradient id="dayG" x1="0" x2="1" y1="0" y2="0"><stop offset="0" stop-color="#d4f0cc"/><stop offset="0.35" stop-color="#a8dc9e"/><stop offset="1" stop-color="#a6da9c"/></linearGradient>
</defs>
<g transform="rotate(-1 127.5 83.7)"><ellipse cx="127.5" cy="83.7" rx="106.5" ry="61.1" fill="#2a8a40"/><ellipse cx="127.5" cy="83.7" rx="105.4" ry="60" fill="#f4fbf2"/></g>
<g clip-path="url(#ellA)"><rect x="20" y="20" width="132" height="140" fill="url(#dayG)" transform="translate(0,0)"/><rect x="151.5" y="20" width="90" height="140" fill="#9cba8e"/></g>
<path d="M151.5,25V143" stroke="#555" stroke-width="0.9" stroke-dasharray="4,2.6"/>
<text x="126.5" y="19.4" font-size="10.5" text-anchor="middle" fill="#333" >Chloroplast</text>
<text x="127.0" y="42.0" font-size="8.8" text-anchor="middle" font-weight="bold" fill="#222" >DAY</text>
<text x="166.5" y="42.0" font-size="8.8" text-anchor="middle" font-weight="bold" fill="#222" >NIGHT</text>
<rect x="97" y="47" width="42" height="8" rx="3.6" ry="2.2" fill="#3fb244" stroke="#2c9a34" stroke-width="0.5"/><path d="M97.8,48.6H138.2" stroke="#8fe08c" stroke-width="0.6"/><path d="M97.8,50.2H138.2" stroke="#8fe08c" stroke-width="0.6"/><path d="M97.8,51.8H138.2" stroke="#8fe08c" stroke-width="0.6"/><path d="M97.8,53.4H138.2" stroke="#8fe08c" stroke-width="0.6"/>
<rect x="124" y="61.5" width="40.5" height="10" rx="4.5" ry="2.2" fill="#3fb244" stroke="#2c9a34" stroke-width="0.5"/><path d="M124.8,63.5H163.7" stroke="#8fe08c" stroke-width="0.6"/><path d="M124.8,65.5H163.7" stroke="#8fe08c" stroke-width="0.6"/><path d="M124.8,67.5H163.7" stroke="#8fe08c" stroke-width="0.6"/><path d="M124.8,69.5H163.7" stroke="#8fe08c" stroke-width="0.6"/>
<rect x="170.5" y="55.5" width="41" height="10" rx="4.5" ry="2.2" fill="#3fb244" stroke="#2c9a34" stroke-width="0.5"/><path d="M171.3,57.5H210.7" stroke="#8fe08c" stroke-width="0.6"/><path d="M171.3,59.5H210.7" stroke="#8fe08c" stroke-width="0.6"/><path d="M171.3,61.5H210.7" stroke="#8fe08c" stroke-width="0.6"/><path d="M171.3,63.5H210.7" stroke="#8fe08c" stroke-width="0.6"/>
<path d="M32.5,38.8L39.2,43.5L37.3,45L44.8,48.2L43,49.3L52.8,53.7L39.5,51.2L41,49.6L33.5,47.5L35,46L27.5,45.2Z" fill="#f5f02a" stroke="#f2aa3a" stroke-width="0.6"/>
<circle cx="21.5" cy="33" r="11.8" fill="#f4f020" stroke="#f0b040" stroke-width="0.9"/>
<text x="21.4" y="35.6" font-size="7" text-anchor="middle" fill="#333" textLength="18.5" lengthAdjust="spacingAndGlyphs" >LIGHT</text>
<text x="39" y="23.4" font-size="6.8" fill="#333">CO<tspan font-size="4.8" dy="1.5">2</tspan></text>
<path d="M47,26.5L59,41.5" stroke="#222" stroke-width="1.4" stroke-dasharray="1.8,1.3"/><path d="M57,42.5L61.2,44.5L60.2,40Z" fill="#222"/>
<path d="M53.12,62.21 A21.6,20 0 0 1 94.63,56.81" fill="none" stroke="#151515" stroke-width="3.1"/>
<path d="M98.4,55.3L90.9,58.3L97.4,64Z" fill="#151515"/>
<path d="M96.08,66.39 A21.6,20 0 0 1 54.57,71.79" fill="none" stroke="#151515" stroke-width="3.1"/>
<path d="M50.8,73.3L58.3,70.3L51.8,64.6Z" fill="#151515"/>
<text x="74.8" y="64.6" font-size="8.2" text-anchor="middle" font-weight="bold" fill="#222" >Calvin</text>
<text x="74.5" y="71.8" font-size="8.2" text-anchor="middle" font-weight="bold" fill="#222" >cycle</text>
<path d="M75.3,88V96" stroke="#151515" stroke-width="2"/><path d="M75.3,100.5L71.9,94.5L78.7,94.5Z" fill="#151515"/>
<path d="M88,85L92.0,89.7" stroke="#151515" stroke-width="2"/><path d="M93.5,91.5L87.5,89.3L92.4,85.2Z" fill="#151515"/>
<path d="M97,97L101.0,101.7" stroke="#151515" stroke-width="2"/><path d="M102.5,103.5L96.5,101.3L101.4,97.2Z" fill="#151515"/>
<path d="M106,109.5L110.0,114.2" stroke="#151515" stroke-width="2"/><path d="M111.5,116.0L105.5,113.8L110.4,109.7Z" fill="#151515"/>
<text x="74.8" y="109.8" font-size="8.6" text-anchor="middle" font-weight="bold" fill="#222" >Triose-</text>
<text x="74.8" y="117.6" font-size="8.6" text-anchor="middle" font-weight="bold" fill="#222" textLength="38" lengthAdjust="spacingAndGlyphs" >Phosphate</text>
<text x="128.4" y="130.6" font-size="8" text-anchor="middle" font-weight="bold" fill="#222" textLength="43" lengthAdjust="spacingAndGlyphs" >ADP-Glucose</text>
<path d="M128.4,117.8V100" stroke="#151515" stroke-width="2.2"/><path d="M128.4,95.5L132.0,101.5L124.8,101.5Z" fill="#151515"/>
<text x="128.2" y="91.3" font-size="11" text-anchor="middle" font-weight="bold" fill="#a0623e" textLength="28.5" lengthAdjust="spacingAndGlyphs" >Starch</text>
<path d="M146.5,87.6H171" stroke="#151515" stroke-width="1.8"/><path d="M177.0,87.6L170.5,90.9L170.5,84.3Z" fill="#151515"/>
<text x="197.0" y="90.4" font-size="8.6" text-anchor="middle" font-weight="bold" fill="#222" textLength="28" lengthAdjust="spacingAndGlyphs" >Glucose</text>
<path d="M147,92L161.5,103.6" stroke="#151515" stroke-width="1.8"/><path d="M166.2,107.3L159.1,105.8L163.2,100.7Z" fill="#151515"/>
<text x="174.3" y="118.8" font-size="8.6" text-anchor="middle" font-weight="bold" fill="#222" textLength="29" lengthAdjust="spacingAndGlyphs" >Maltose</text>
<rect x="70.3" y="128" width="3.9" height="14.3" rx="1.3" fill="#222"/><rect x="74.7" y="128" width="3.9" height="14.3" rx="1.3" fill="#222"/>
<path d="M74.5,123V147" stroke="#333" stroke-width="0.7"/><path d="M74.5,149.5L73.1,146.7L75.9,146.7Z" fill="#333"/>
<rect x="169.5" y="132.3" width="4.3" height="14.2" rx="1.5" fill="#7a4216"/><rect x="174.3" y="132.3" width="4.3" height="14.2" rx="1.5" fill="#7a4216"/>
<path d="M174,128V150" stroke="#333" stroke-width="0.7"/><path d="M174.0,152.8L172.6,150.0L175.4,150.0Z" fill="#333"/>
<rect x="202" y="118.5" width="4.6" height="14.4" rx="1.5" fill="#d21e6a"/><rect x="207.3" y="118.5" width="4.6" height="14.4" rx="1.5" fill="#d21e6a"/>
<path d="M207,109.8V139.5" stroke="#333" stroke-width="0.7"/><path d="M207.0,142.3L205.6,139.5L208.4,139.5Z" fill="#333"/>
<text x="180" y="142.6" font-size="4.3" font-style="italic" fill="#555">MEX1</text>
<text x="213.2" y="127" font-size="4.3" font-style="italic" fill="#555">pGlcT</text>
<text x="74.7" y="155.2" font-size="5.6" text-anchor="middle" font-weight="bold" fill="#333" >Triose-</text>
<text x="74.7" y="161.3" font-size="5.6" text-anchor="middle" font-weight="bold" fill="#333" textLength="27" lengthAdjust="spacingAndGlyphs" >Phosphate</text>
<text x="174.5" y="158.4" font-size="5.8" text-anchor="middle" font-weight="bold" fill="#333" textLength="21" lengthAdjust="spacingAndGlyphs" >Maltose</text>
<text x="207.0" y="149.6" font-size="5.8" text-anchor="middle" font-weight="bold" fill="#333" textLength="20.5" lengthAdjust="spacingAndGlyphs" >Glucose</text>
<text x="127.7" y="172.0" font-size="9" text-anchor="middle" font-weight="bold" fill="#222" textLength="27.6" lengthAdjust="spacingAndGlyphs" >Sucrose</text>
<path d="M74.5,164.5V169.3H101.5M174.4,161.5V169.3M207.2,153.8V169.3H151" stroke="#222" stroke-width="1.3" stroke-dasharray="1.3,1.3" fill="none"/>
<path d="M105.5,169.3L101.5,171.5L101.5,167.1Z" fill="#222"/><path d="M147.5,169.3L151.5,167.1L151.5,171.5Z" fill="#222"/>
<text x="171.5" y="179.8" font-size="4.6" fill="#444" textLength="60" lengthAdjust="spacingAndGlyphs">MEX1, maltose transporter</text>
<text x="171.5" y="187.6" font-size="4.6" fill="#444" textLength="60" lengthAdjust="spacingAndGlyphs">pGlcT, glucose transporter</text>
<text x="232.0" y="15.6" font-size="18.8" text-anchor="start" font-weight="bold" fill="#111" >(b)</text>
<defs>
<linearGradient id="goxL" x1="0.85" y1="0.05" x2="0.2" y2="0.95"><stop offset="0" stop-color="#f4d4f0"/><stop offset="0.35" stop-color="#d070c8"/><stop offset="0.7" stop-color="#9a3c9c"/><stop offset="1" stop-color="#5a1462"/></linearGradient>
<radialGradient id="goxG" cx="0.68" cy="0.25" r="0.85"><stop offset="0" stop-color="#f6d0f0"/><stop offset="0.35" stop-color="#cf6ac8"/><stop offset="0.75" stop-color="#8a2a8c"/><stop offset="1" stop-color="#4a0c50"/></radialGradient>
<radialGradient id="ptG" cx="0.62" cy="0.28" r="0.8"><stop offset="0" stop-color="#ffffff"/><stop offset="0.25" stop-color="#d8dcdc"/><stop offset="1" stop-color="#7a8080"/></radialGradient>
<linearGradient id="su8" x1="0" y1="0" x2="0" y2="1"><stop offset="0" stop-color="#dbb35c"/><stop offset="1" stop-color="#d4ab55"/></linearGradient>
</defs>
<text x="257.0" y="20.3" font-size="10.2" text-anchor="start" font-weight="bold" fill="#333" textLength="45" lengthAdjust="spacingAndGlyphs" >D-glucose</text>
<text x="257.0" y="51.6" font-size="10.2" text-anchor="start" font-weight="bold" fill="#333" textLength="48.5" lengthAdjust="spacingAndGlyphs" >D-glucose-</text>
<text x="257.0" y="64.9" font-size="10.2" text-anchor="start" font-weight="bold" fill="#333" textLength="47.5" lengthAdjust="spacingAndGlyphs" >1,5-lactone</text>
<text x="326.2" y="20.3" font-size="10.2" font-weight="bold" fill="#333">GOx<tspan font-size="6.5" dy="-3.5" font-weight="normal">red</tspan></text>
<text x="366.5" y="20.3" font-size="10.2" font-weight="bold" fill="#333">H<tspan font-size="6.5" dy="1">2</tspan><tspan dy="-1">O</tspan><tspan font-size="6.5" dy="1">2</tspan></text>
<text x="401.2" y="20.3" font-size="10.2" font-weight="bold" fill="#333">Pt + 2e<tspan font-size="6" dy="-3.5">-</tspan></text>
<text x="324.8" y="58.8" font-size="10.2" text-anchor="start" font-weight="bold" fill="#333" textLength="20.5" lengthAdjust="spacingAndGlyphs" >GOx</text>
<text x="369.7" y="58.8" font-size="10.2" font-weight="bold" fill="#333">O<tspan font-size="6.5" dy="1">2</tspan></text>
<text x="408.6" y="58.8" font-size="10.2" text-anchor="start" font-weight="bold" fill="#333" >Pt</text>
<path d="M310.0,19 C319.5,27 319.5,40.5 307.5,48.5" fill="none" stroke="#333" stroke-width="0.8"/>
<path d="M320.5,50.5 C311.0,58.5 311.0,12.5 323.0,20.5" fill="none" stroke="#333" stroke-width="0.8"/>
<path d="M305.9,49.8L308.6,45.7L310.8,49.5Z" fill="#333"/>
<path d="M324.7,19.2L323.1,23.9L320.0,20.8Z" fill="#333"/>
<path d="M353.0,19 C361,27 361,40.5 350.5,48.5" fill="none" stroke="#333" stroke-width="0.8"/>
<path d="M362,50.5 C354.0,58.5 354.0,12.5 364.5,20.5" fill="none" stroke="#333" stroke-width="0.8"/>
<path d="M348.9,49.8L351.6,45.7L353.8,49.5Z" fill="#333"/>
<path d="M366.2,19.2L364.6,23.9L361.5,20.8Z" fill="#333"/>
<path d="M388.0,19 C396.5,27 396.5,40.5 385.5,48.5" fill="none" stroke="#333" stroke-width="0.8"/>
<path d="M397.5,50.5 C389.0,58.5 389.0,12.5 400.0,20.5" fill="none" stroke="#333" stroke-width="0.8"/>
<path d="M383.9,49.8L386.6,45.7L388.8,49.5Z" fill="#333"/>
<path d="M401.7,19.2L400.1,23.9L397.0,20.8Z" fill="#333"/>
<rect x="257.3" y="80.8" width="41" height="33.2" fill="url(#su8)"/>
<rect x="395" y="80.8" width="41" height="33.2" fill="url(#su8)"/>
<path d="M298,114V88C302,85 306,83 312,84C320,86 328,88 336,86C342,84.5 348,84 355,86C362,88 368,88 374,86C380,84 386,83 391,84L395,84.5V114Z" fill="#f08c5c"/>
<rect x="257.3" y="113.8" width="178.7" height="13.4" fill="#4b92d2"/>
<rect x="257.3" y="127.2" width="178.7" height="9.6" fill="#f5f6c4"/>
<rect x="257.3" y="136.8" width="178.7" height="17.9" fill="#c9c9c9"/>
<text x="415.5" y="100.6" font-size="9" text-anchor="middle" fill="#444" >SU-8</text>
<text x="346.5" y="124.4" font-size="9.4" text-anchor="middle" fill="#1e3a5a" >PEDOT:PSS</text>
<text x="346.5" y="135.2" font-size="9" text-anchor="middle" fill="#444" >Gold</text>
<text x="346.5" y="149.2" font-size="9" text-anchor="middle" fill="#444" >PEN</text>
<path transform="translate(313,81.2) scale(0.98)" d="M5.5,15.5 C1,15 -8,11 -9.5,3 C-10.5,-5 -6,-10.5 1,-10.5 C7,-10.5 10.5,-6 10,-1 C9.5,3 7,5 3.5,6 C4.5,8 7,11 5.5,15.5 Z" fill="url(#goxL)"/>
<path transform="translate(347.5,81.2) scale(0.98)" d="M5.5,15.5 C1,15 -8,11 -9.5,3 C-10.5,-5 -6,-10.5 1,-10.5 C7,-10.5 10.5,-6 10,-1 C9.5,3 7,5 3.5,6 C4.5,8 7,11 5.5,15.5 Z" fill="url(#goxL)"/>
<path transform="translate(382,81.2) scale(0.98)" d="M5.5,15.5 C1,15 -8,11 -9.5,3 C-10.5,-5 -6,-10.5 1,-10.5 C7,-10.5 10.5,-6 10,-1 C9.5,3 7,5 3.5,6 C4.5,8 7,11 5.5,15.5 Z" fill="url(#goxL)"/>
<g transform="translate(315,102)" stroke="#111" stroke-width="1.5" fill="none"><path d="M-12.2,-3L0.3,4.6M-11.5,2.7L-2.3,-5M-2.3,-5L11.3,0.5M7.3,-2.1L-1.4,6.8"/></g>
<g transform="translate(349,101)" stroke="#111" stroke-width="1.5" fill="none"><path d="M-12.2,-3L0.3,4.6M-11.5,2.7L-2.3,-5M-2.3,-5L11.3,0.5M7.3,-2.1L-1.4,6.8"/></g>
<g transform="translate(383,101.5)" stroke="#111" stroke-width="1.5" fill="none"><path d="M-12.2,-3L0.3,4.6M-11.5,2.7L-2.3,-5M-2.3,-5L11.3,0.5M7.3,-2.1L-1.4,6.8"/></g>
<circle cx="308.4" cy="108.6" r="4.3" fill="url(#ptG)"/>
<circle cx="325.3" cy="108.6" r="4.3" fill="url(#ptG)"/>
<circle cx="340.5" cy="108.6" r="4.3" fill="url(#ptG)"/>
<circle cx="355.7" cy="108.6" r="4.3" fill="url(#ptG)"/>
<circle cx="369.7" cy="108.6" r="4.3" fill="url(#ptG)"/>
<circle cx="384.9" cy="108.6" r="4.3" fill="url(#ptG)"/>
<path transform="translate(277,171.5) scale(1.0)" d="M5.5,15.5 C1,15 -8,11 -9.5,3 C-10.5,-5 -6,-10.5 1,-10.5 C7,-10.5 10.5,-6 10,-1 C9.5,3 7,5 3.5,6 C4.5,8 7,11 5.5,15.5 Z" fill="url(#goxL)"/>
<text x="287.1" y="177.8" font-size="9.8" text-anchor="start" fill="#3a3a3a" textLength="19" lengthAdjust="spacingAndGlyphs" >GOx</text>
<g transform="translate(327,174) scale(1.0)" stroke="#111" stroke-width="1.7" fill="none"><path d="M-10.4,3.2L2.4,-7.3M-2.2,8.4L10.6,-1.5M-12.2,-1.5L1.9,6.7M-2.8,-7.3L11.2,2" /></g>
<text x="342.0" y="177.8" font-size="9.8" text-anchor="start" fill="#3a3a3a" textLength="39.5" lengthAdjust="spacingAndGlyphs" >Chitosan</text>
<circle cx="398" cy="173.6" r="8.3" fill="url(#ptG)"/>
<text x="410.6" y="177.8" font-size="9.8" text-anchor="start" fill="#3a3a3a" textLength="23.5" lengthAdjust="spacingAndGlyphs" >PtNP</text>
<text x="1.0" y="202.0" font-size="18.8" text-anchor="start" font-weight="bold" fill="#111" >(d)</text>
<defs>
<radialGradient id="ptD" cx="0.4" cy="0.3" r="0.8"><stop offset="0" stop-color="#6a3040"/><stop offset="0.5" stop-color="#3a0e1c"/><stop offset="1" stop-color="#200610"/></radialGradient>
<linearGradient id="redTop" x1="0" y1="0" x2="1" y2="1"><stop offset="0" stop-color="#e4401c"/><stop offset="1" stop-color="#e8461e"/></linearGradient>
</defs>
<path d="M37.5,298.0 L141.2,342.0 L214.0,272.5 L214.0,283.0 L141.2,356.0 L40.5,311.0 Z" fill="#a9b5aa" />
<path d="M38.2,294.5 L141.2,335.2 L214.0,269.0 L214.0,272.5 L141.2,342.0 L38.5,298.0 Z" fill="#f3d25c" />
<path d="M38.0,292.8 L141.2,323.3 L214.0,267.8 L214.0,269.0 L141.2,335.2 L38.2,294.5 Z" fill="#ee7632" />
<path d="M38.0,292.8 L131.5,251.0 L214.0,267.8 L141.2,323.3 Z" fill="url(#redTop)" />
<path d="M36.2,283.3 L131.5,241.5 L214.6,259.6 L214.2,267.8 L131.5,251.0 L38.0,292.8 Z" fill="#e181ad" />
<path d="M36.5,287.0 L50.0,281.0 L51.0,287.0 L38.0,292.8 Z" fill="#f2b6cc" />
<path d="M30.0,246.0 L41.0,243.0 L57.0,239.5 L73.0,234.5 L89.0,228.0 L105.0,223.0 L121.0,218.5 L135.0,216.0 L150.0,219.0 L171.0,222.5 L200.0,225.4 L220.7,229.5 L214.6,259.6 L131.5,241.5 L89.6,260.0 Z" fill="#e2e7dc" />
<path d="M30.0,246.0 L89.6,260.0 L36.2,283.3 Z" fill="#f3f5f0" />
<path d="M220.7,229.5 L221.0,233.0 L215.0,266.0 L214.6,259.6 Z" fill="#eef2ea" />
<circle cx="134.2" cy="254.5" r="2.85" fill="url(#ptD)"/>
<circle cx="152.0" cy="255.2" r="2.85" fill="url(#ptD)"/>
<circle cx="120.2" cy="258.5" r="2.85" fill="url(#ptD)"/>
<circle cx="153.6" cy="260.3" r="2.85" fill="url(#ptD)"/>
<circle cx="130.9" cy="260.6" r="2.85" fill="url(#ptD)"/>
<circle cx="145.6" cy="260.7" r="2.85" fill="url(#ptD)"/>
<circle cx="182.6" cy="261.6" r="2.85" fill="url(#ptD)"/>
<circle cx="164.7" cy="262.2" r="2.85" fill="url(#ptD)"/>
<circle cx="126.0" cy="262.8" r="2.85" fill="url(#ptD)"/>
<circle cx="115.7" cy="263.2" r="2.85" fill="url(#ptD)"/>
<circle cx="157.4" cy="264.3" r="2.85" fill="url(#ptD)"/>
<circle cx="193.7" cy="264.3" r="2.85" fill="url(#ptD)"/>
<circle cx="188.4" cy="265.5" r="2.85" fill="url(#ptD)"/>
<circle cx="106.8" cy="266.1" r="2.85" fill="url(#ptD)"/>
<circle cx="130.6" cy="267.2" r="2.85" fill="url(#ptD)"/>
<circle cx="112.2" cy="268.5" r="2.85" fill="url(#ptD)"/>
<circle cx="202.1" cy="268.7" r="2.85" fill="url(#ptD)"/>
<circle cx="207.9" cy="268.7" r="2.85" fill="url(#ptD)"/>
<circle cx="141.3" cy="268.9" r="2.85" fill="url(#ptD)"/>
<circle cx="98.9" cy="269.1" r="2.85" fill="url(#ptD)"/>
<circle cx="181.4" cy="270.5" r="2.85" fill="url(#ptD)"/>
<circle cx="165.5" cy="270.7" r="2.85" fill="url(#ptD)"/>
<circle cx="187.7" cy="270.9" r="2.85" fill="url(#ptD)"/>
<circle cx="195.1" cy="270.9" r="2.85" fill="url(#ptD)"/>
<circle cx="170.6" cy="270.9" r="2.85" fill="url(#ptD)"/>
<circle cx="156.2" cy="270.9" r="2.85" fill="url(#ptD)"/>
<circle cx="117.9" cy="271.6" r="2.85" fill="url(#ptD)"/>
<circle cx="151.0" cy="271.9" r="2.85" fill="url(#ptD)"/>
<circle cx="93.7" cy="272.0" r="2.85" fill="url(#ptD)"/>
<circle cx="107.0" cy="273.5" r="2.85" fill="url(#ptD)"/>
<circle cx="144.4" cy="273.6" r="2.85" fill="url(#ptD)"/>
<circle cx="200.2" cy="273.7" r="2.85" fill="url(#ptD)"/>
<circle cx="121.2" cy="274.7" r="2.85" fill="url(#ptD)"/>
<circle cx="83.4" cy="275.0" r="2.85" fill="url(#ptD)"/>
<circle cx="88.1" cy="275.3" r="2.85" fill="url(#ptD)"/>
<circle cx="132.2" cy="276.3" r="2.85" fill="url(#ptD)"/>
<circle cx="149.9" cy="276.8" r="2.85" fill="url(#ptD)"/>
<circle cx="125.0" cy="277.5" r="2.85" fill="url(#ptD)"/>
<circle cx="139.3" cy="278.6" r="2.85" fill="url(#ptD)"/>
<circle cx="107.5" cy="278.7" r="2.85" fill="url(#ptD)"/>
<circle cx="168.9" cy="279.7" r="2.85" fill="url(#ptD)"/>
<circle cx="87.9" cy="279.9" r="2.85" fill="url(#ptD)"/>
<circle cx="78.4" cy="280.0" r="2.85" fill="url(#ptD)"/>
<circle cx="157.0" cy="280.8" r="2.85" fill="url(#ptD)"/>
<circle cx="180.9" cy="281.1" r="2.85" fill="url(#ptD)"/>
<circle cx="135.3" cy="281.7" r="2.85" fill="url(#ptD)"/>
<circle cx="100.9" cy="283.0" r="2.85" fill="url(#ptD)"/>
<circle cx="91.9" cy="283.2" r="2.85" fill="url(#ptD)"/>
<circle cx="128.8" cy="283.5" r="2.85" fill="url(#ptD)"/>
<circle cx="72.6" cy="284.2" r="2.85" fill="url(#ptD)"/>
<circle cx="192.0" cy="284.2" r="2.85" fill="url(#ptD)"/>
<circle cx="169.0" cy="284.4" r="2.85" fill="url(#ptD)"/>
<circle cx="184.6" cy="284.5" r="2.85" fill="url(#ptD)"/>
<circle cx="120.2" cy="284.8" r="2.85" fill="url(#ptD)"/>
<circle cx="80.1" cy="284.9" r="2.85" fill="url(#ptD)"/>
<circle cx="108.5" cy="285.1" r="2.85" fill="url(#ptD)"/>
<circle cx="66.1" cy="285.2" r="2.85" fill="url(#ptD)"/>
<circle cx="113.9" cy="285.5" r="2.85" fill="url(#ptD)"/>
<circle cx="56.6" cy="285.9" r="2.85" fill="url(#ptD)"/>
<circle cx="145.4" cy="286.4" r="2.85" fill="url(#ptD)"/>
<circle cx="96.1" cy="287.3" r="2.85" fill="url(#ptD)"/>
<circle cx="140.7" cy="288.1" r="2.85" fill="url(#ptD)"/>
<circle cx="126.3" cy="288.3" r="2.85" fill="url(#ptD)"/>
<circle cx="118.7" cy="289.7" r="2.85" fill="url(#ptD)"/>
<circle cx="45.8" cy="289.8" r="2.85" fill="url(#ptD)"/>
<circle cx="164.7" cy="290.1" r="2.85" fill="url(#ptD)"/>
<circle cx="58.3" cy="290.3" r="2.85" fill="url(#ptD)"/>
<circle cx="103.5" cy="290.8" r="2.85" fill="url(#ptD)"/>
<circle cx="171.5" cy="291.3" r="2.85" fill="url(#ptD)"/>
<circle cx="82.0" cy="291.4" r="2.85" fill="url(#ptD)"/>
<circle cx="76.2" cy="291.9" r="2.85" fill="url(#ptD)"/>
<circle cx="71.1" cy="291.9" r="2.85" fill="url(#ptD)"/>
<circle cx="94.0" cy="292.2" r="2.85" fill="url(#ptD)"/>
<circle cx="159.6" cy="292.8" r="2.85" fill="url(#ptD)"/>
<circle cx="128.7" cy="294.5" r="2.85" fill="url(#ptD)"/>
<circle cx="136.1" cy="295.2" r="2.85" fill="url(#ptD)"/>
<circle cx="57.8" cy="295.7" r="2.85" fill="url(#ptD)"/>
<circle cx="164.6" cy="296.3" r="2.85" fill="url(#ptD)"/>
<circle cx="169.1" cy="297.3" r="2.85" fill="url(#ptD)"/>
<circle cx="121.5" cy="297.8" r="2.85" fill="url(#ptD)"/>
<circle cx="106.4" cy="298.1" r="2.85" fill="url(#ptD)"/>
<circle cx="147.7" cy="299.0" r="2.85" fill="url(#ptD)"/>
<circle cx="84.6" cy="299.9" r="2.85" fill="url(#ptD)"/>
<circle cx="128.1" cy="299.9" r="2.85" fill="url(#ptD)"/>
<circle cx="157.5" cy="299.9" r="2.85" fill="url(#ptD)"/>
<circle cx="138.1" cy="300.4" r="2.85" fill="url(#ptD)"/>
<circle cx="91.2" cy="303.2" r="2.85" fill="url(#ptD)"/>
<circle cx="111.9" cy="304.5" r="2.85" fill="url(#ptD)"/>
<circle cx="136.6" cy="304.7" r="2.85" fill="url(#ptD)"/>
<circle cx="131.6" cy="306.1" r="2.85" fill="url(#ptD)"/>
<circle cx="152.3" cy="307.6" r="2.85" fill="url(#ptD)"/>
<circle cx="93.1" cy="308.8" r="2.85" fill="url(#ptD)"/>
<circle cx="113.0" cy="309.5" r="2.85" fill="url(#ptD)"/>
<circle cx="98.9" cy="309.9" r="2.85" fill="url(#ptD)"/>
<circle cx="125.1" cy="310.1" r="2.85" fill="url(#ptD)"/>
<circle cx="107.2" cy="312.7" r="2.85" fill="url(#ptD)"/>
<circle cx="130.3" cy="313.0" r="2.85" fill="url(#ptD)"/>
<circle cx="147.3" cy="314.8" r="2.85" fill="url(#ptD)"/>
<circle cx="140.3" cy="315.1" r="2.85" fill="url(#ptD)"/>
<circle cx="136.2" cy="317.9" r="2.85" fill="url(#ptD)"/>
<g transform="translate(102.8,239.9) scale(1.02,0.80)" fill="#3030b8" stroke="#20208a" stroke-width="0.35"><circle cx="0.0" cy="0.0" r="1.75"/><circle cx="-2.4" cy="-1.2" r="1.75"/><circle cx="-0.6" cy="-2.6" r="1.75"/><circle cx="1.8" cy="-2.0" r="1.75"/><circle cx="2.7" cy="0.3" r="1.75"/><circle cx="1.2" cy="2.3" r="1.75"/><circle cx="-1.3" cy="2.2" r="1.75"/><circle cx="-3.0" cy="0.9" r="1.75"/><circle cx="3.2" cy="-1.6" r="1.75"/></g>
<g transform="translate(108.9,247.5) scale(1.02,0.80)" fill="#3030b8" stroke="#20208a" stroke-width="0.35"><circle cx="0.0" cy="0.0" r="1.75"/><circle cx="-2.4" cy="-1.2" r="1.75"/><circle cx="-0.6" cy="-2.6" r="1.75"/><circle cx="1.8" cy="-2.0" r="1.75"/><circle cx="2.7" cy="0.3" r="1.75"/><circle cx="1.2" cy="2.3" r="1.75"/><circle cx="-1.3" cy="2.2" r="1.75"/><circle cx="-3.0" cy="0.9" r="1.75"/><circle cx="3.2" cy="-1.6" r="1.75"/></g>
<g transform="translate(142.0,232.2) scale(1.02,0.80)" fill="#3030b8" stroke="#20208a" stroke-width="0.35"><circle cx="0.0" cy="0.0" r="1.75"/><circle cx="-2.4" cy="-1.2" r="1.75"/><circle cx="-0.6" cy="-2.6" r="1.75"/><circle cx="1.8" cy="-2.0" r="1.75"/><circle cx="2.7" cy="0.3" r="1.75"/><circle cx="1.2" cy="2.3" r="1.75"/><circle cx="-1.3" cy="2.2" r="1.75"/><circle cx="-3.0" cy="0.9" r="1.75"/><circle cx="3.2" cy="-1.6" r="1.75"/></g>
<g transform="translate(153.4,235.9) scale(1.02,0.80)" fill="#3030b8" stroke="#20208a" stroke-width="0.35"><circle cx="0.0" cy="0.0" r="1.75"/><circle cx="-2.4" cy="-1.2" r="1.75"/><circle cx="-0.6" cy="-2.6" r="1.75"/><circle cx="1.8" cy="-2.0" r="1.75"/><circle cx="2.7" cy="0.3" r="1.75"/><circle cx="1.2" cy="2.3" r="1.75"/><circle cx="-1.3" cy="2.2" r="1.75"/><circle cx="-3.0" cy="0.9" r="1.75"/><circle cx="3.2" cy="-1.6" r="1.75"/></g>
<g transform="translate(164.1,233.7) scale(1.02,0.80)" fill="#3030b8" stroke="#20208a" stroke-width="0.35"><circle cx="0.0" cy="0.0" r="1.75"/><circle cx="-2.4" cy="-1.2" r="1.75"/><circle cx="-0.6" cy="-2.6" r="1.75"/><circle cx="1.8" cy="-2.0" r="1.75"/><circle cx="2.7" cy="0.3" r="1.75"/><circle cx="1.2" cy="2.3" r="1.75"/><circle cx="-1.3" cy="2.2" r="1.75"/><circle cx="-3.0" cy="0.9" r="1.75"/><circle cx="3.2" cy="-1.6" r="1.75"/></g>
<g transform="translate(162.6,247.5) scale(1.02,0.80)" fill="#3030b8" stroke="#20208a" stroke-width="0.35"><circle cx="0.0" cy="0.0" r="1.75"/><circle cx="-2.4" cy="-1.2" r="1.75"/><circle cx="-0.6" cy="-2.6" r="1.75"/><circle cx="1.8" cy="-2.0" r="1.75"/><circle cx="2.7" cy="0.3" r="1.75"/><circle cx="1.2" cy="2.3" r="1.75"/><circle cx="-1.3" cy="2.2" r="1.75"/><circle cx="-3.0" cy="0.9" r="1.75"/><circle cx="3.2" cy="-1.6" r="1.75"/></g>
<g transform="translate(182.5,247.5) scale(1.02,0.80)" fill="#3030b8" stroke="#20208a" stroke-width="0.35"><circle cx="0.0" cy="0.0" r="1.75"/><circle cx="-2.4" cy="-1.2" r="1.75"/><circle cx="-0.6" cy="-2.6" r="1.75"/><circle cx="1.8" cy="-2.0" r="1.75"/><circle cx="2.7" cy="0.3" r="1.75"/><circle cx="1.2" cy="2.3" r="1.75"/><circle cx="-1.3" cy="2.2" r="1.75"/><circle cx="-3.0" cy="0.9" r="1.75"/><circle cx="3.2" cy="-1.6" r="1.75"/></g>
<g transform="translate(208.5,255.8) scale(1.02,0.80)" fill="#3030b8" stroke="#20208a" stroke-width="0.35"><circle cx="0.0" cy="0.0" r="1.75"/><circle cx="-2.4" cy="-1.2" r="1.75"/><circle cx="-0.6" cy="-2.6" r="1.75"/><circle cx="1.8" cy="-2.0" r="1.75"/><circle cx="2.7" cy="0.3" r="1.75"/><circle cx="1.2" cy="2.3" r="1.75"/><circle cx="-1.3" cy="2.2" r="1.75"/><circle cx="-3.0" cy="0.9" r="1.75"/><circle cx="3.2" cy="-1.6" r="1.75"/></g>
<g transform="translate(131.9,258.2) scale(1.33,1.04)" fill="#3030b8" stroke="#20208a" stroke-width="0.35"><circle cx="0.0" cy="0.0" r="1.75"/><circle cx="-2.4" cy="-1.2" r="1.75"/><circle cx="-0.6" cy="-2.6" r="1.75"/><circle cx="1.8" cy="-2.0" r="1.75"/><circle cx="2.7" cy="0.3" r="1.75"/><circle cx="1.2" cy="2.3" r="1.75"/><circle cx="-1.3" cy="2.2" r="1.75"/><circle cx="-3.0" cy="0.9" r="1.75"/><circle cx="3.2" cy="-1.6" r="1.75"/></g>
<g transform="translate(124.2,264.4) scale(1.33,1.04)" fill="#3030b8" stroke="#20208a" stroke-width="0.35"><circle cx="0.0" cy="0.0" r="1.75"/><circle cx="-2.4" cy="-1.2" r="1.75"/><circle cx="-0.6" cy="-2.6" r="1.75"/><circle cx="1.8" cy="-2.0" r="1.75"/><circle cx="2.7" cy="0.3" r="1.75"/><circle cx="1.2" cy="2.3" r="1.75"/><circle cx="-1.3" cy="2.2" r="1.75"/><circle cx="-3.0" cy="0.9" r="1.75"/><circle cx="3.2" cy="-1.6" r="1.75"/></g>
<g transform="translate(72.1,264.4) scale(1.02,0.80)" fill="#3030b8" stroke="#20208a" stroke-width="0.35"><circle cx="0.0" cy="0.0" r="1.75"/><circle cx="-2.4" cy="-1.2" r="1.75"/><circle cx="-0.6" cy="-2.6" r="1.75"/><circle cx="1.8" cy="-2.0" r="1.75"/><circle cx="2.7" cy="0.3" r="1.75"/><circle cx="1.2" cy="2.3" r="1.75"/><circle cx="-1.3" cy="2.2" r="1.75"/><circle cx="-3.0" cy="0.9" r="1.75"/><circle cx="3.2" cy="-1.6" r="1.75"/></g>
<g transform="translate(86.8,275.1) scale(1.33,1.04)" fill="#3030b8" stroke="#20208a" stroke-width="0.35"><circle cx="0.0" cy="0.0" r="1.75"/><circle cx="-2.4" cy="-1.2" r="1.75"/><circle cx="-0.6" cy="-2.6" r="1.75"/><circle cx="1.8" cy="-2.0" r="1.75"/><circle cx="2.7" cy="0.3" r="1.75"/><circle cx="1.2" cy="2.3" r="1.75"/><circle cx="-1.3" cy="2.2" r="1.75"/><circle cx="-3.0" cy="0.9" r="1.75"/><circle cx="3.2" cy="-1.6" r="1.75"/></g>
<g transform="translate(191.7,262.8) scale(1.33,1.04)" fill="#3030b8" stroke="#20208a" stroke-width="0.35"><circle cx="0.0" cy="0.0" r="1.75"/><circle cx="-2.4" cy="-1.2" r="1.75"/><circle cx="-0.6" cy="-2.6" r="1.75"/><circle cx="1.8" cy="-2.0" r="1.75"/><circle cx="2.7" cy="0.3" r="1.75"/><circle cx="1.2" cy="2.3" r="1.75"/><circle cx="-1.3" cy="2.2" r="1.75"/><circle cx="-3.0" cy="0.9" r="1.75"/><circle cx="3.2" cy="-1.6" r="1.75"/></g>
<g transform="translate(204.0,263.8) scale(1.33,1.04)" fill="#3030b8" stroke="#20208a" stroke-width="0.35"><circle cx="0.0" cy="0.0" r="1.75"/><circle cx="-2.4" cy="-1.2" r="1.75"/><circle cx="-0.6" cy="-2.6" r="1.75"/><circle cx="1.8" cy="-2.0" r="1.75"/><circle cx="2.7" cy="0.3" r="1.75"/><circle cx="1.2" cy="2.3" r="1.75"/><circle cx="-1.3" cy="2.2" r="1.75"/><circle cx="-3.0" cy="0.9" r="1.75"/><circle cx="3.2" cy="-1.6" r="1.75"/></g>
<g transform="translate(157.3,273.0) scale(1.33,1.04)" fill="#3030b8" stroke="#20208a" stroke-width="0.35"><circle cx="0.0" cy="0.0" r="1.75"/><circle cx="-2.4" cy="-1.2" r="1.75"/><circle cx="-0.6" cy="-2.6" r="1.75"/><circle cx="1.8" cy="-2.0" r="1.75"/><circle cx="2.7" cy="0.3" r="1.75"/><circle cx="1.2" cy="2.3" r="1.75"/><circle cx="-1.3" cy="2.2" r="1.75"/><circle cx="-3.0" cy="0.9" r="1.75"/><circle cx="3.2" cy="-1.6" r="1.75"/></g>
<g transform="translate(154.9,281.2) scale(1.33,1.04)" fill="#3030b8" stroke="#20208a" stroke-width="0.35"><circle cx="0.0" cy="0.0" r="1.75"/><circle cx="-2.4" cy="-1.2" r="1.75"/><circle cx="-0.6" cy="-2.6" r="1.75"/><circle cx="1.8" cy="-2.0" r="1.75"/><circle cx="2.7" cy="0.3" r="1.75"/><circle cx="1.2" cy="2.3" r="1.75"/><circle cx="-1.3" cy="2.2" r="1.75"/><circle cx="-3.0" cy="0.9" r="1.75"/><circle cx="3.2" cy="-1.6" r="1.75"/></g>
<g transform="translate(100.3,287.4) scale(1.33,1.04)" fill="#3030b8" stroke="#20208a" stroke-width="0.35"><circle cx="0.0" cy="0.0" r="1.75"/><circle cx="-2.4" cy="-1.2" r="1.75"/><circle cx="-0.6" cy="-2.6" r="1.75"/><circle cx="1.8" cy="-2.0" r="1.75"/><circle cx="2.7" cy="0.3" r="1.75"/><circle cx="1.2" cy="2.3" r="1.75"/><circle cx="-1.3" cy="2.2" r="1.75"/><circle cx="-3.0" cy="0.9" r="1.75"/><circle cx="3.2" cy="-1.6" r="1.75"/></g>
<g transform="translate(120.6,298.7) scale(1.33,1.04)" fill="#3030b8" stroke="#20208a" stroke-width="0.35"><circle cx="0.0" cy="0.0" r="1.75"/><circle cx="-2.4" cy="-1.2" r="1.75"/><circle cx="-0.6" cy="-2.6" r="1.75"/><circle cx="1.8" cy="-2.0" r="1.75"/><circle cx="2.7" cy="0.3" r="1.75"/><circle cx="1.2" cy="2.3" r="1.75"/><circle cx="-1.3" cy="2.2" r="1.75"/><circle cx="-3.0" cy="0.9" r="1.75"/><circle cx="3.2" cy="-1.6" r="1.75"/></g>
<g transform="translate(146.3,305.2) scale(1.33,1.04)" fill="#3030b8" stroke="#20208a" stroke-width="0.35"><circle cx="0.0" cy="0.0" r="1.75"/><circle cx="-2.4" cy="-1.2" r="1.75"/><circle cx="-0.6" cy="-2.6" r="1.75"/><circle cx="1.8" cy="-2.0" r="1.75"/><circle cx="2.7" cy="0.3" r="1.75"/><circle cx="1.2" cy="2.3" r="1.75"/><circle cx="-1.3" cy="2.2" r="1.75"/><circle cx="-3.0" cy="0.9" r="1.75"/><circle cx="3.2" cy="-1.6" r="1.75"/></g>
<text x="40.6" y="214.3" font-size="13" text-anchor="start" font-weight="bold" fill="#111" textLength="55.7" lengthAdjust="spacingAndGlyphs" >Chitosan</text>
<path d="M70,219L88.4,232.3" stroke="#111" stroke-width="1.3"/>
<text x="44.2" y="353.6" font-size="13" text-anchor="start" font-weight="bold" fill="#111" textLength="41.8" lengthAdjust="spacingAndGlyphs" >Nafion</text>
<path d="M66,334.5L85.9,307.3" stroke="#111" stroke-width="1.3"/>
<g transform="translate(81.8,370.6) scale(2.04,1.60)" fill="#4848c4" stroke="#20208a" stroke-width="0.35"><circle cx="0.0" cy="0.0" r="1.75"/><circle cx="-2.4" cy="-1.2" r="1.75"/><circle cx="-0.6" cy="-2.6" r="1.75"/><circle cx="1.8" cy="-2.0" r="1.75"/><circle cx="2.7" cy="0.3" r="1.75"/><circle cx="1.2" cy="2.3" r="1.75"/><circle cx="-1.3" cy="2.2" r="1.75"/><circle cx="-3.0" cy="0.9" r="1.75"/><circle cx="3.2" cy="-1.6" r="1.75"/></g>
<text x="98.3" y="375.2" font-size="11" text-anchor="start" font-weight="bold" fill="#111" textLength="22.6" lengthAdjust="spacingAndGlyphs" >GOx</text>
<circle cx="145.7" cy="370.3" r="7.7" fill="#111"/><circle cx="147.2" cy="364.5" r="1.1" fill="#bbb"/>
<text x="160.7" y="375.2" font-size="11" text-anchor="start" font-weight="bold" fill="#111" textLength="35.1" lengthAdjust="spacingAndGlyphs" >Pt NPs</text>
<text x="231.5" y="201.7" font-size="18.8" text-anchor="start" font-weight="bold" fill="#111" >(e)</text>
<defs>
<linearGradient id="photoG" x1="0" y1="0" x2="0.25" y2="1"><stop offset="0" stop-color="#4287c6"/><stop offset="0.45" stop-color="#4d93cc"/><stop offset="1" stop-color="#66a8d3"/></linearGradient>
<radialGradient id="shadowG" cx="0.5" cy="0.5" r="0.5"><stop offset="0" stop-color="#245f9a" stop-opacity="0.85"/><stop offset="1" stop-color="#245f9a" stop-opacity="0"/></radialGradient>
<linearGradient id="phoneG" x1="0" y1="0" x2="1" y2="1"><stop offset="0" stop-color="#3a3a3a"/><stop offset="1" stop-color="#222"/></linearGradient>
<pattern id="grid" width="2" height="2" patternUnits="userSpaceOnUse"><rect width="2" height="2" fill="#eeebe4"/><path d="M0,0.5H2M0.5,0V2" stroke="#dedad2" stroke-width="0.35"/></pattern>
</defs>
<path d="M257.5,209.5 L296,247.8 Q298,249.5 301,248 L321.5,236 Q324,234 323,231.5 L322.5,230 L297,244 Z" fill="#d4d6d8"/>
<path d="M258.5,210.8 L296.5,247 L297,244.5 Z" fill="#ecedee"/>
<path d="M259,204.8 Q256,206.5 258,209 L294.5,243 Q297,245 300,243.5 L320.5,231.5 Q323.5,229.5 321,227 L285,200.5 Q282,198.8 279,199.6 Z" fill="url(#phoneG)"/>
<path d="M303,246.6 L312,241.8" stroke="#555" stroke-width="1.2"/><path d="M299,246.6 L301,245.5 M314,240.8 L316,239.7" stroke="#777" stroke-width="0.8"/>
<path d="M331,216 L338.5,222.8 L334.6,226.5 V212.5 L338.5,216.2 L331,223" fill="none" stroke="#6f7378" stroke-width="1.1"/>
<path d="M341.2,213.5 Q344.5,219.5 341.2,225.5" fill="none" stroke="#8ec5ee" stroke-width="1.2"/>
<path d="M344.2,210.5 Q349.5,219.5 344.2,228.5" fill="none" stroke="#4a8ad6" stroke-width="1.3"/>
<path d="M347.4,207.8 Q354.5,219.5 347.4,231" fill="none" stroke="#2a58b0" stroke-width="1.3"/>
<path d="M351,206.5 Q359,219.5 351,232.5" fill="none" stroke="#d0d4d8" stroke-width="0.9"/>
<path d="M361.5,206.6 L382.5,200.5 L426.3,212.8 L405.3,220.6 Z" fill="#f7f7f7" stroke="#e6e6e6" stroke-width="0.5"/>
<path d="M361.5,206.6 L405.3,220.6 L403.5,247.8 L362.4,237.3 Z" fill="#eeeeee"/>
<path d="M405.3,220.6 L426.3,212.8 L425.4,233.8 L403.5,247.8 Z" fill="#e2e2e2"/>
<path d="M362,219 L404.5,232" stroke="#dadada" stroke-width="0.6"/>
<path d="M387.8,208.6 L407,213.2 L410.6,211.6 L391.5,207 Z" fill="#6a6a6a"/>
<path d="M389.5,230.5 L399.2,233.2 L399.2,236.6 L389.5,234 Z" fill="#222"/>
<path d="M406.8,220.8 L414,218.6 L444.7,231.2 L435,240.8 L407,226 Z" fill="#6fa2dc"/>
<path d="M410,221.2 L414.5,219.8 L440,230.6 L434.5,236 Z" fill="#b3d0f0"/>
<rect x="256.4" y="252.5" width="188.2" height="124.8" fill="url(#photoG)"/>
<ellipse cx="300" cy="305" rx="42" ry="26" fill="url(#shadowG)"/>
<ellipse cx="405" cy="345" rx="25" ry="9" fill="url(#shadowG)" opacity="0.6"/>
<path d="M286.5,297.5 L308.7,277.4 L375.3,289 L376.7,308.5 L360,338.5 L289.4,321 Z" fill="#efebe2"/>
<path d="M286.5,297.5 L308.7,277.4 L375.3,289 L362.4,313.2 Z" fill="#f5f1e7"/>
<path d="M286.5,298 L362.4,313.6 L361,340 L289.4,321 Z" fill="url(#grid)"/>
<path d="M286.5,297.5 L362.4,313.2 L362.2,320 L287,304.5 Z" fill="#f1ece1"/>
<path d="M362.4,313.2 L375.3,289 L376.7,308.5 L360,338.5 Z" fill="#ece6d8"/>
<path d="M287.2,305 L362.2,320.5" stroke="#d4cdbf" stroke-width="0.8"/>
<path d="M329.5,291.8 L353,295.3 L355.9,298.8 L332,295.5 Z" fill="#e0c49a"/><path d="M332.5,293.3 L351.5,296.3" stroke="#b87240" stroke-width="1.2"/>
<path d="M347.5,298.8 L375.3,293 L375.3,300 L366,312.6 L350,309 Z" fill="#f8f5ee" opacity="0.9"/>
<path d="M339,321.5 L352.2,324.5 L352.2,328.4 L339,325.5 Z" fill="#3a2e22"/>
<path d="M385.5,332 L391.9,326.5 L432.1,334.6 L428.2,350.2 L385,340.4 Z" fill="#f4f1ea"/>
<path d="M393,331.5 L424,339 L421,345 L391,336.5 Z" fill="none" stroke="#c8a060" stroke-width="0.8"/>
<path d="M400,335 L418,339.5 M409,333.5 V341 M426,339 L424,346" stroke="#b08a50" stroke-width="1"/>
<path d="M402,336.6 L416,340" stroke="#555" stroke-width="1.2"/>
<text x="320.5" y="351.0" font-size="8" text-anchor="middle" fill="#1a1a1a" textLength="75" lengthAdjust="spacingAndGlyphs" >data acquisition dock</text>
<text x="406.7" y="358.6" font-size="8" text-anchor="middle" fill="#1a1a1a" textLength="53.4" lengthAdjust="spacingAndGlyphs" >glucose sensor</text>
<text x="1.5" y="400.8" font-size="18.8" text-anchor="start" font-weight="bold" fill="#111" >(g)</text>
<defs>
<linearGradient id="domeG" x1="0" y1="0" x2="0" y2="1"><stop offset="0" stop-color="#eef5fb"/><stop offset="0.7" stop-color="#e2eef8"/><stop offset="1" stop-color="#cde0ef"/></linearGradient>
<linearGradient id="gateG" x1="0" y1="0" x2="1" y2="0"><stop offset="0" stop-color="#cdb13a"/><stop offset="0.45" stop-color="#f3df6a"/><stop offset="1" stop-color="#c4a632"/></linearGradient>
<linearGradient id="elG" x1="0" y1="0" x2="0" y2="1"><stop offset="0" stop-color="#f6e67a"/><stop offset="1" stop-color="#e0c840"/></linearGradient>
<linearGradient id="subG" x1="0" y1="0" x2="0" y2="1"><stop offset="0" stop-color="#f7f7f7"/><stop offset="0.5" stop-color="#e2e2e2"/><stop offset="1" stop-color="#cfcfcf"/></linearGradient>
</defs>
<path d="M19.5,567.9V438.1H63.4M66.4,438.1H112V449.7M19.5,521H33.5M192.9,521H212.6V561.1H116.4M114.4,561.1H19.5" fill="none" stroke="#6a6a6a" stroke-width="0.9"/>
<path d="M63.5,432.2V443.8M66.3,435V441.3M114.4,555V567.3M116.6,557.8V564.5" stroke="#6a6a6a" stroke-width="1"/>
<path d="M12.3,567.9H26.7M14.8,570.4H24.2M16.9,572.8H22.1" stroke="#6a6a6a" stroke-width="0.9"/>
<text x="60.4" y="453.6" font-size="8.2" fill="#333">V<tspan font-size="5.6" dy="1.6">G</tspan></text>
<text x="112.3" y="576.4" font-size="8.2" fill="#333">V<tspan font-size="5.6" dy="1.6">D</tspan></text>
<text x="199" y="533.4" font-size="8.2" fill="#333">I<tspan font-size="5.6" dy="1.6">D</tspan></text>
<path d="M196,524.3H207" stroke="#222" stroke-width="0.9"/><path d="M206,522.2L210.5,524.3L206,526.4Z" fill="#222"/>
<rect x="33.5" y="526.6" width="159.4" height="16.6" fill="url(#subG)" stroke="#8a8a8a" stroke-width="0.9"/>
<path d="M34,542.6H192.5" stroke="#777" stroke-width="1.4"/>
<rect x="33.5" y="509.7" width="159.4" height="17.1" fill="#eca67c"/>
<path d="M33.5,510.3H192.9" stroke="#e4855a" stroke-width="1.3"/>
<path d="M54.3,514.0h3.4M56.0,512.3v3.4M55.2,523.9h3.4M56.9,522.2v3.4M71.3,518.6h3.4M73.0,516.9v3.4M82.1,513.0h3.4M83.8,511.3v3.4M78.4,522.5h3.4M80.1,520.8v3.4M109.0,522.5h3.4M110.7,520.8v3.4M137.9,514.4h3.4M139.6,512.7v3.4M143.4,522.7h3.4M145.1,521.0v3.4M152.0,517.4h3.4M153.7,515.7v3.4M165.3,513.9h3.4M167.0,512.2v3.4M171.8,523.1h3.4M173.5,521.4v3.4" stroke="#fff8f2" stroke-width="0.9"/><path d="M55.6,519.2h3.6M63.9,513.4h3.6M70.9,522.3h3.6M82.6,518.4h3.6M99.1,522.4h3.6M126.0,523.5h3.6M141.7,519.2h3.6M153.6,512.8h3.6M153.1,523.3h3.6M167.9,517.9h3.6" stroke="#a8806a" stroke-width="0.9"/>
<rect x="33.8" y="514.4" width="16.5" height="12.4" fill="url(#elG)" stroke="#9a8420" stroke-width="0.9"/>
<rect x="176.4" y="514.4" width="16.3" height="12.8" fill="url(#elG)" stroke="#9a8420" stroke-width="0.9"/>
<text x="42.0" y="523.5" font-size="8" text-anchor="middle" fill="#5a4a10" >S</text>
<text x="184.6" y="523.7" font-size="8" text-anchor="middle" fill="#5a4a10" >D</text>
<path d="M33.7,509.7 A79.6,43 0 0 1 192.9,509.7 Z" fill="url(#domeG)" stroke="#6f8dbb" stroke-width="0.9"/>
<path d="M42,508.5 A71,33 0 0 1 184,508.5 Z" fill="#f0f6fb" opacity="0.55"/>
<path d="M82.6,477h2.8M84,475.6v2.8M86.6,489h2.8M88,487.6v2.8M98.6,483h2.8M100,481.6v2.8M128.6,475h2.8M130,473.6v2.8M133.6,487h2.8M135,485.6v2.8M118.6,495h2.8M120,493.6v2.8M68.6,497h2.8M70,495.6v2.8M148.6,495h2.8M150,493.6v2.8" stroke="#f3c8a8" stroke-width="0.7"/>
<text x="93.0" y="496.6" font-size="8.6" text-anchor="middle" font-weight="bold" fill="#333" textLength="27.7" lengthAdjust="spacingAndGlyphs" >Glucose</text>
<text x="113.2" y="520.9" font-size="8.6" text-anchor="middle" font-weight="bold" fill="#222" textLength="42" lengthAdjust="spacingAndGlyphs" >PEDOT:PSS</text>
<rect x="107.2" y="449.7" width="9.3" height="38" fill="url(#gateG)" stroke="#7e6c1a" stroke-width="0.8"/>
<rect x="108.6" y="481" width="6.5" height="6" fill="#a9c1e9" stroke="#6a82b8" stroke-width="0.5"/>
<text x="111.9" y="457.3" font-size="7" text-anchor="middle" fill="#6a5a10" >G</text>
<path d="M119.3,459.2L116.3,472 M212.8,459.2L116,485.6" stroke="#444" stroke-width="0.6" fill="none"/>
<rect x="119.3" y="398.3" width="93.3" height="60.9" fill="#fff" stroke="#1a1a1a" stroke-width="1.1" stroke-dasharray="1.8,1.1"/>
<path d="M163.3,416.9 L158.6,419.6 L153.9,416.9 L153.9,411.5 L158.6,408.8 L163.3,411.5ZM140.6,426.2 L138.2,430.4 L133.4,430.4 L131.0,426.2 L133.4,422.0 L138.2,422.0ZM144.3,443.8 L141.9,448.0 L137.1,448.0 L134.7,443.8 L137.1,439.6 L141.9,439.6ZM171.7,447.7 L167.0,450.4 L162.3,447.7 L162.3,442.3 L167.0,439.6 L171.7,442.3ZM158.6,408.8L164.5,405.5L170,405.8M158.6,419.6L155.8,424.7L155.8,429.2M155.8,424.7L151,423.5M147,425L142.5,428.5L140.3,430.2M131,426.2L126.5,424.5L123.5,428.5L125,433L130.5,431M129.5,433.5L130,439.4M134.7,443.8L130,441L125.5,443.5L126.5,449L131.5,448.5L134.7,447M127,450L125.5,453M144.3,446L148.5,448.5L152,447.5M156,448.5L159.3,450.5L159.3,455.5M159.3,450.5L162.2,447.7M171.8,442.3L176.5,440.5M121,426L124,427M123,454.5L127,451.5" fill="none" stroke="#5560c8" stroke-width="0.85"/>
<text x="158" y="402.3" font-size="3.3" fill="#5560c8" font-weight="bold">HO</text><text x="164" y="407" font-size="3.3" fill="#5560c8" font-weight="bold">B</text><text x="169.6" y="407" font-size="3.3" fill="#5560c8" font-weight="bold">OH</text>
<text x="146.5" y="424.5" font-size="3.3" fill="#5560c8" font-weight="bold">HN</text><text x="151.5" y="447.5" font-size="3.3" fill="#5560c8" font-weight="bold">HN</text><text x="154.5" y="431.5" font-size="3.3" fill="#5560c8" font-weight="bold">O</text><text x="157.5" y="458" font-size="3.3" fill="#5560c8" font-weight="bold">O</text>
<text x="131" y="423.5" font-size="3.3" fill="#5560c8" font-weight="bold">O</text><text x="131" y="433" font-size="3.3" fill="#5560c8" font-weight="bold">O</text><text x="137" y="440" font-size="3.3" fill="#5560c8" font-weight="bold">O</text><text x="137" y="451" font-size="3.3" fill="#5560c8" font-weight="bold">O</text><text x="122" y="432.5" font-size="3.3" fill="#5560c8" font-weight="bold">S</text><text x="124" y="447.5" font-size="3.3" fill="#5560c8" font-weight="bold">S</text>
<text x="170" y="437.8" font-size="3.3" fill="#5560c8" font-weight="bold">HO</text><text x="176.5" y="442.5" font-size="3.3" fill="#5560c8" font-weight="bold">B</text>
<path d="M178.5,440.5L182,436.5L186,434.5L193.5,436L199.5,432.5L203.5,434L206.5,439.5L199,442L192,441.5L187,444L181.5,443.5Z M186,434.5L187,429 M193.5,436L195.5,442 M199,442L200.5,445.5 M206.5,439.5L210,441" fill="none" stroke="#222" stroke-width="0.75"/>
<text x="185" y="428" font-size="3.3" fill="#222" font-weight="bold">OH</text><text x="194.5" y="448" font-size="3.3" fill="#222" font-weight="bold">OH</text><text x="206" y="444.5" font-size="3.3" fill="#222" font-weight="bold">OH</text><text x="179" y="437" font-size="3.3" fill="#222" font-weight="bold">O</text><text x="181" y="446" font-size="3.3" fill="#222" font-weight="bold">O</text><text x="199.5" y="434.5" font-size="3.3" fill="#222" font-weight="bold">O</text>
<text x="162.3" y="458.2" font-size="9" text-anchor="start" font-weight="bold" fill="#111" textLength="49" lengthAdjust="spacingAndGlyphs" >PBA-Glucose</text>
<text x="448.2" y="16.1" font-size="18.8" text-anchor="start" font-weight="bold" fill="#111" >(c)</text>
<text x="451.0" y="201.7" font-size="18.8" text-anchor="start" font-weight="bold" fill="#111" >(f)</text>
<text x="232.6" y="390.5" font-size="18.8" text-anchor="start" font-weight="bold" fill="#111" >(h)</text>
<text x="455.2" y="390.5" font-size="18.8" text-anchor="start" font-weight="bold" fill="#111" >(i)</text></svg>
</body></html>
